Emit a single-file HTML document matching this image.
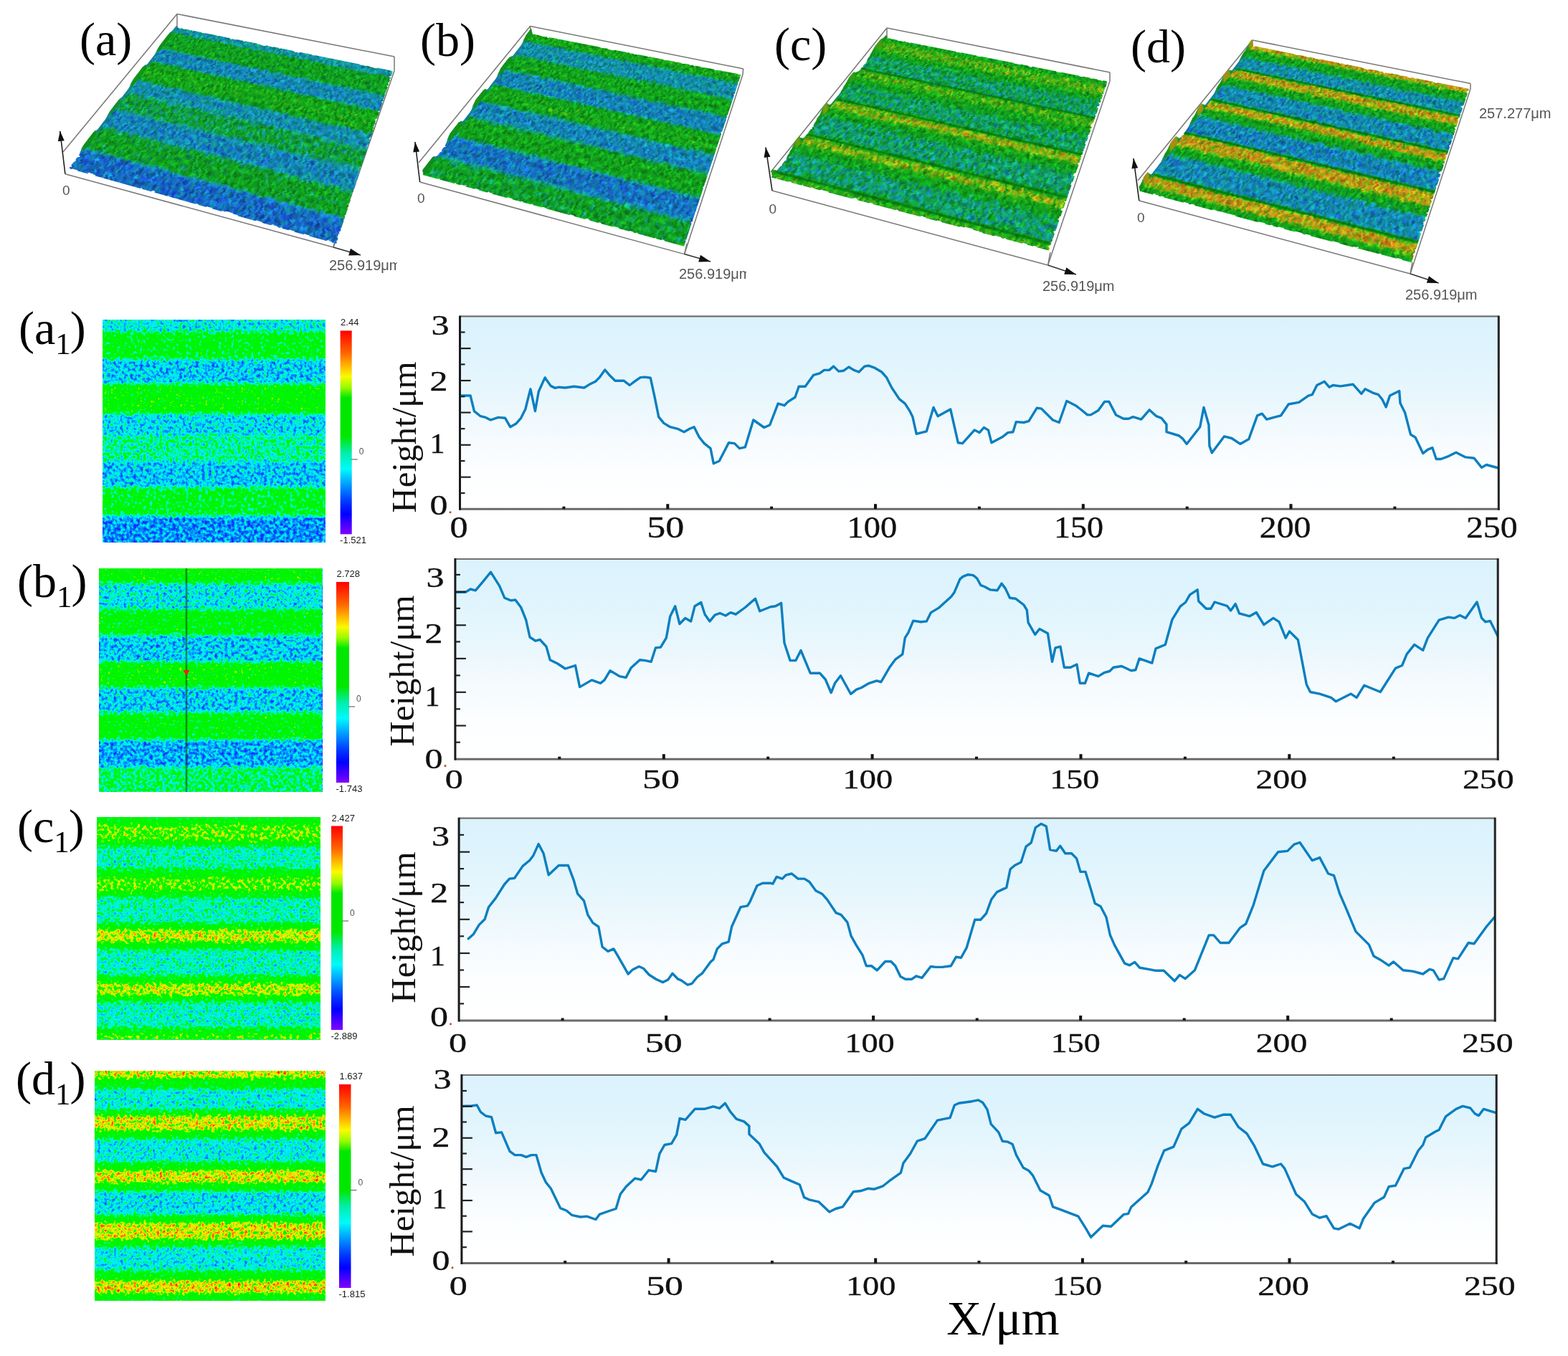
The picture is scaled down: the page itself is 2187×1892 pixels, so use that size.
<!DOCTYPE html>
<html><head><meta charset="utf-8"><title>Surface morphology</title>
<style>
html,body{margin:0;padding:0;background:#fff;}
#fig{position:relative;width:2187px;height:1892px;overflow:hidden;background:#fff;}
#fig svg.main{position:absolute;left:0;top:0;}
</style></head><body>
<div id="fig">
<svg class="main" width="2187" height="1892" viewBox="0 0 2187 1892" xmlns="http://www.w3.org/2000/svg">
<defs>
<linearGradient id="g_a1" x1="0" y1="0" x2="0" y2="1"><stop offset="0.0000" stop-color="rgb(84,84,84)"/><stop offset="0.0418" stop-color="rgb(84,84,84)"/><stop offset="0.0675" stop-color="rgb(133,133,133)"/><stop offset="0.1640" stop-color="rgb(133,133,133)"/><stop offset="0.1897" stop-color="rgb(71,71,71)"/><stop offset="0.2765" stop-color="rgb(71,71,71)"/><stop offset="0.3023" stop-color="rgb(148,148,148)"/><stop offset="0.4084" stop-color="rgb(148,148,148)"/><stop offset="0.4341" stop-color="rgb(76,76,76)"/><stop offset="0.5048" stop-color="rgb(76,76,76)"/><stop offset="0.5305" stop-color="rgb(102,102,102)"/><stop offset="0.6238" stop-color="rgb(102,102,102)"/><stop offset="0.6495" stop-color="rgb(69,69,69)"/><stop offset="0.7395" stop-color="rgb(69,69,69)"/><stop offset="0.7653" stop-color="rgb(128,128,128)"/><stop offset="0.8682" stop-color="rgb(128,128,128)"/><stop offset="0.8939" stop-color="rgb(54,54,54)"/><stop offset="1.0000" stop-color="rgb(54,54,54)"/></linearGradient>
<filter id="f_a1" x="0" y="0" width="100%" height="100%" color-interpolation-filters="sRGB" filterUnits="objectBoundingBox">
<feTurbulence type="fractalNoise" baseFrequency="0.22" numOctaves="2" seed="3" result="n0"/>
<feColorMatrix in="n0" type="matrix" values="1 0 0 0 0  1 0 0 0 0  1 0 0 0 0  0 0 0 0 1" result="n"/>
<feComposite in="SourceGraphic" in2="n" operator="arithmetic" k1="0" k2="1" k3="0.6" k4="-0.3" result="v"/>
<feColorMatrix in="v" type="matrix" values="1 0 0 0 0  1 0 0 0 0  1 0 0 0 0  0 0 0 0 1" result="v2"/>
<feComponentTransfer in="v2" result="c">
<feFuncR type="table" tableValues="0.392 0.294 0.196 0.098 0.000 0.000 0.000 0.000 0.000 0.000 0.000 0.000 0.000 0.000 0.000 0.000 0.000 0.000 0.000 0.000 0.000 0.000 0.000 0.000 0.000 0.000 0.000 0.000 0.118 0.412 0.667 0.863 0.983 0.990 0.997 1.000 1.000 1.000 1.000 1.000 1.000"/>
<feFuncG type="table" tableValues="0.000 0.059 0.118 0.176 0.235 0.305 0.375 0.448 0.532 0.616 0.703 0.795 0.887 0.961 0.961 0.961 0.961 0.961 0.961 0.961 0.961 0.961 0.961 0.961 0.961 0.961 0.961 0.961 0.965 0.975 0.980 0.980 0.933 0.814 0.695 0.571 0.443 0.327 0.218 0.109 0.000"/>
<feFuncB type="table" tableValues="1.000 0.995 0.990 0.985 0.980 0.980 0.980 0.982 0.989 0.996 0.998 0.991 0.985 0.961 0.863 0.765 0.667 0.458 0.250 0.042 0.000 0.000 0.000 0.000 0.000 0.000 0.000 0.000 0.000 0.000 0.000 0.000 0.000 0.000 0.000 0.000 0.000 0.000 0.000 0.000 0.000"/>
</feComponentTransfer>
</filter>
<linearGradient id="g_b1" x1="0" y1="0" x2="0" y2="1"><stop offset="0.0000" stop-color="rgb(148,148,148)"/><stop offset="0.0513" stop-color="rgb(148,148,148)"/><stop offset="0.0769" stop-color="rgb(82,82,82)"/><stop offset="0.1731" stop-color="rgb(82,82,82)"/><stop offset="0.1987" stop-color="rgb(140,140,140)"/><stop offset="0.2853" stop-color="rgb(140,140,140)"/><stop offset="0.3109" stop-color="rgb(71,71,71)"/><stop offset="0.4071" stop-color="rgb(71,71,71)"/><stop offset="0.4327" stop-color="rgb(148,148,148)"/><stop offset="0.5192" stop-color="rgb(148,148,148)"/><stop offset="0.5449" stop-color="rgb(71,71,71)"/><stop offset="0.6330" stop-color="rgb(71,71,71)"/><stop offset="0.6587" stop-color="rgb(140,140,140)"/><stop offset="0.7532" stop-color="rgb(140,140,140)"/><stop offset="0.7788" stop-color="rgb(61,61,61)"/><stop offset="0.8750" stop-color="rgb(61,61,61)"/><stop offset="0.9006" stop-color="rgb(112,112,112)"/><stop offset="1.0000" stop-color="rgb(112,112,112)"/></linearGradient>
<filter id="f_b1" x="0" y="0" width="100%" height="100%" color-interpolation-filters="sRGB" filterUnits="objectBoundingBox">
<feTurbulence type="fractalNoise" baseFrequency="0.22" numOctaves="2" seed="5" result="n0"/>
<feColorMatrix in="n0" type="matrix" values="1 0 0 0 0  1 0 0 0 0  1 0 0 0 0  0 0 0 0 1" result="n"/>
<feComposite in="SourceGraphic" in2="n" operator="arithmetic" k1="0" k2="1" k3="0.6" k4="-0.3" result="v"/>
<feColorMatrix in="v" type="matrix" values="1 0 0 0 0  1 0 0 0 0  1 0 0 0 0  0 0 0 0 1" result="v2"/>
<feComponentTransfer in="v2" result="c">
<feFuncR type="table" tableValues="0.392 0.294 0.196 0.098 0.000 0.000 0.000 0.000 0.000 0.000 0.000 0.000 0.000 0.000 0.000 0.000 0.000 0.000 0.000 0.000 0.000 0.000 0.000 0.000 0.000 0.000 0.000 0.000 0.118 0.412 0.667 0.863 0.983 0.990 0.997 1.000 1.000 1.000 1.000 1.000 1.000"/>
<feFuncG type="table" tableValues="0.000 0.059 0.118 0.176 0.235 0.305 0.375 0.448 0.532 0.616 0.703 0.795 0.887 0.961 0.961 0.961 0.961 0.961 0.961 0.961 0.961 0.961 0.961 0.961 0.961 0.961 0.961 0.961 0.965 0.975 0.980 0.980 0.933 0.814 0.695 0.571 0.443 0.327 0.218 0.109 0.000"/>
<feFuncB type="table" tableValues="1.000 0.995 0.990 0.985 0.980 0.980 0.980 0.982 0.989 0.996 0.998 0.991 0.985 0.961 0.863 0.765 0.667 0.458 0.250 0.042 0.000 0.000 0.000 0.000 0.000 0.000 0.000 0.000 0.000 0.000 0.000 0.000 0.000 0.000 0.000 0.000 0.000 0.000 0.000 0.000 0.000"/>
</feComponentTransfer>
</filter>
<linearGradient id="g_c1" x1="0" y1="0" x2="0" y2="1"><stop offset="0.0000" stop-color="rgb(140,140,140)"/><stop offset="0.0193" stop-color="rgb(140,140,140)"/><stop offset="0.0451" stop-color="rgb(178,178,178)"/><stop offset="0.0966" stop-color="rgb(178,178,178)"/><stop offset="0.1224" stop-color="rgb(140,140,140)"/><stop offset="0.1159" stop-color="rgb(140,140,140)"/><stop offset="0.1417" stop-color="rgb(97,97,97)"/><stop offset="0.2190" stop-color="rgb(97,97,97)"/><stop offset="0.2448" stop-color="rgb(140,140,140)"/><stop offset="0.2544" stop-color="rgb(140,140,140)"/><stop offset="0.2802" stop-color="rgb(176,176,176)"/><stop offset="0.3221" stop-color="rgb(176,176,176)"/><stop offset="0.3478" stop-color="rgb(140,140,140)"/><stop offset="0.3478" stop-color="rgb(140,140,140)"/><stop offset="0.3736" stop-color="rgb(97,97,97)"/><stop offset="0.4638" stop-color="rgb(97,97,97)"/><stop offset="0.4895" stop-color="rgb(140,140,140)"/><stop offset="0.4895" stop-color="rgb(140,140,140)"/><stop offset="0.5153" stop-color="rgb(196,196,196)"/><stop offset="0.5507" stop-color="rgb(196,196,196)"/><stop offset="0.5765" stop-color="rgb(140,140,140)"/><stop offset="0.5829" stop-color="rgb(140,140,140)"/><stop offset="0.6087" stop-color="rgb(94,94,94)"/><stop offset="0.6989" stop-color="rgb(94,94,94)"/><stop offset="0.7246" stop-color="rgb(140,140,140)"/><stop offset="0.7311" stop-color="rgb(140,140,140)"/><stop offset="0.7568" stop-color="rgb(191,191,191)"/><stop offset="0.7923" stop-color="rgb(191,191,191)"/><stop offset="0.8180" stop-color="rgb(140,140,140)"/><stop offset="0.8180" stop-color="rgb(140,140,140)"/><stop offset="0.8438" stop-color="rgb(94,94,94)"/><stop offset="0.9340" stop-color="rgb(94,94,94)"/><stop offset="0.9597" stop-color="rgb(140,140,140)"/><stop offset="0.9597" stop-color="rgb(140,140,140)"/><stop offset="0.9855" stop-color="rgb(173,173,173)"/><stop offset="1.0000" stop-color="rgb(173,173,173)"/></linearGradient>
<filter id="f_c1" x="0" y="0" width="100%" height="100%" color-interpolation-filters="sRGB" filterUnits="objectBoundingBox">
<feTurbulence type="fractalNoise" baseFrequency="0.22" numOctaves="2" seed="7" result="n0"/>
<feColorMatrix in="n0" type="matrix" values="1 0 0 0 0  1 0 0 0 0  1 0 0 0 0  0 0 0 0 1" result="n"/>
<feComposite in="SourceGraphic" in2="n" operator="arithmetic" k1="0" k2="1" k3="0.55" k4="-0.275" result="v"/>
<feColorMatrix in="v" type="matrix" values="1 0 0 0 0  1 0 0 0 0  1 0 0 0 0  0 0 0 0 1" result="v2"/>
<feComponentTransfer in="v2" result="c">
<feFuncR type="table" tableValues="0.392 0.294 0.196 0.098 0.000 0.000 0.000 0.000 0.000 0.000 0.000 0.000 0.000 0.000 0.000 0.000 0.000 0.000 0.000 0.000 0.000 0.000 0.000 0.000 0.000 0.000 0.000 0.000 0.118 0.412 0.667 0.863 0.983 0.990 0.997 1.000 1.000 1.000 1.000 1.000 1.000"/>
<feFuncG type="table" tableValues="0.000 0.059 0.118 0.176 0.235 0.305 0.375 0.448 0.532 0.616 0.703 0.795 0.887 0.961 0.961 0.961 0.961 0.961 0.961 0.961 0.961 0.961 0.961 0.961 0.961 0.961 0.961 0.961 0.965 0.975 0.980 0.980 0.933 0.814 0.695 0.571 0.443 0.327 0.218 0.109 0.000"/>
<feFuncB type="table" tableValues="1.000 0.995 0.990 0.985 0.980 0.980 0.980 0.982 0.989 0.996 0.998 0.991 0.985 0.961 0.863 0.765 0.667 0.458 0.250 0.042 0.000 0.000 0.000 0.000 0.000 0.000 0.000 0.000 0.000 0.000 0.000 0.000 0.000 0.000 0.000 0.000 0.000 0.000 0.000 0.000 0.000"/>
</feComponentTransfer>
</filter>
<linearGradient id="g_d1" x1="0" y1="0" x2="0" y2="1"><stop offset="0.0000" stop-color="rgb(199,199,199)"/><stop offset="0.0218" stop-color="rgb(199,199,199)"/><stop offset="0.0467" stop-color="rgb(140,140,140)"/><stop offset="0.0654" stop-color="rgb(140,140,140)"/><stop offset="0.0903" stop-color="rgb(87,87,87)"/><stop offset="0.1558" stop-color="rgb(87,87,87)"/><stop offset="0.1807" stop-color="rgb(140,140,140)"/><stop offset="0.1807" stop-color="rgb(140,140,140)"/><stop offset="0.2056" stop-color="rgb(199,199,199)"/><stop offset="0.2492" stop-color="rgb(199,199,199)"/><stop offset="0.2741" stop-color="rgb(140,140,140)"/><stop offset="0.2835" stop-color="rgb(140,140,140)"/><stop offset="0.3084" stop-color="rgb(84,84,84)"/><stop offset="0.3832" stop-color="rgb(84,84,84)"/><stop offset="0.4081" stop-color="rgb(140,140,140)"/><stop offset="0.4174" stop-color="rgb(140,140,140)"/><stop offset="0.4424" stop-color="rgb(201,201,201)"/><stop offset="0.4766" stop-color="rgb(201,201,201)"/><stop offset="0.5016" stop-color="rgb(140,140,140)"/><stop offset="0.5109" stop-color="rgb(140,140,140)"/><stop offset="0.5358" stop-color="rgb(79,79,79)"/><stop offset="0.6137" stop-color="rgb(79,79,79)"/><stop offset="0.6386" stop-color="rgb(140,140,140)"/><stop offset="0.6449" stop-color="rgb(140,140,140)"/><stop offset="0.6698" stop-color="rgb(201,201,201)"/><stop offset="0.7227" stop-color="rgb(201,201,201)"/><stop offset="0.7477" stop-color="rgb(140,140,140)"/><stop offset="0.7539" stop-color="rgb(140,140,140)"/><stop offset="0.7788" stop-color="rgb(84,84,84)"/><stop offset="0.8567" stop-color="rgb(84,84,84)"/><stop offset="0.8816" stop-color="rgb(140,140,140)"/><stop offset="0.8972" stop-color="rgb(140,140,140)"/><stop offset="0.9221" stop-color="rgb(204,204,204)"/><stop offset="0.9564" stop-color="rgb(204,204,204)"/><stop offset="0.9813" stop-color="rgb(140,140,140)"/><stop offset="1.0000" stop-color="rgb(140,140,140)"/></linearGradient>
<filter id="f_d1" x="0" y="0" width="100%" height="100%" color-interpolation-filters="sRGB" filterUnits="objectBoundingBox">
<feTurbulence type="fractalNoise" baseFrequency="0.22" numOctaves="2" seed="9" result="n0"/>
<feColorMatrix in="n0" type="matrix" values="1 0 0 0 0  1 0 0 0 0  1 0 0 0 0  0 0 0 0 1" result="n"/>
<feComposite in="SourceGraphic" in2="n" operator="arithmetic" k1="0" k2="1" k3="0.55" k4="-0.275" result="v"/>
<feColorMatrix in="v" type="matrix" values="1 0 0 0 0  1 0 0 0 0  1 0 0 0 0  0 0 0 0 1" result="v2"/>
<feComponentTransfer in="v2" result="c">
<feFuncR type="table" tableValues="0.392 0.294 0.196 0.098 0.000 0.000 0.000 0.000 0.000 0.000 0.000 0.000 0.000 0.000 0.000 0.000 0.000 0.000 0.000 0.000 0.000 0.000 0.000 0.000 0.000 0.000 0.000 0.000 0.118 0.412 0.667 0.863 0.983 0.990 0.997 1.000 1.000 1.000 1.000 1.000 1.000"/>
<feFuncG type="table" tableValues="0.000 0.059 0.118 0.176 0.235 0.305 0.375 0.448 0.532 0.616 0.703 0.795 0.887 0.961 0.961 0.961 0.961 0.961 0.961 0.961 0.961 0.961 0.961 0.961 0.961 0.961 0.961 0.961 0.965 0.975 0.980 0.980 0.933 0.814 0.695 0.571 0.443 0.327 0.218 0.109 0.000"/>
<feFuncB type="table" tableValues="1.000 0.995 0.990 0.985 0.980 0.980 0.980 0.982 0.989 0.996 0.998 0.991 0.985 0.961 0.863 0.765 0.667 0.458 0.250 0.042 0.000 0.000 0.000 0.000 0.000 0.000 0.000 0.000 0.000 0.000 0.000 0.000 0.000 0.000 0.000 0.000 0.000 0.000 0.000 0.000 0.000"/>
</feComponentTransfer>
</filter>
<linearGradient id="cbar" x1="0" y1="0" x2="0" y2="1"><stop offset="0.000" stop-color="rgb(255,0,0)"/><stop offset="0.110" stop-color="rgb(255,100,0)"/><stop offset="0.160" stop-color="rgb(255,165,0)"/><stop offset="0.225" stop-color="rgb(250,250,0)"/><stop offset="0.280" stop-color="rgb(150,250,0)"/><stop offset="0.330" stop-color="rgb(0,232,0)"/><stop offset="0.520" stop-color="rgb(0,232,0)"/><stop offset="0.600" stop-color="rgb(0,238,170)"/><stop offset="0.680" stop-color="rgb(0,250,250)"/><stop offset="0.760" stop-color="rgb(0,150,255)"/><stop offset="0.835" stop-color="rgb(0,60,255)"/><stop offset="0.900" stop-color="rgb(0,0,255)"/><stop offset="1.000" stop-color="rgb(130,0,255)"/></linearGradient>
<linearGradient id="g3_a" x1="0" y1="0" x2="0" y2="1"><stop offset="0.0000" stop-color="rgb(89,89,89)"/><stop offset="0.0101" stop-color="rgb(89,89,89)"/><stop offset="0.0201" stop-color="rgb(89,89,89)"/><stop offset="0.0302" stop-color="rgb(89,89,89)"/><stop offset="0.0402" stop-color="rgb(92,92,92)"/><stop offset="0.0503" stop-color="rgb(112,112,112)"/><stop offset="0.0603" stop-color="rgb(132,132,132)"/><stop offset="0.0704" stop-color="rgb(132,132,132)"/><stop offset="0.0804" stop-color="rgb(133,133,133)"/><stop offset="0.0905" stop-color="rgb(133,133,133)"/><stop offset="0.1005" stop-color="rgb(133,133,133)"/><stop offset="0.1106" stop-color="rgb(133,133,133)"/><stop offset="0.1206" stop-color="rgb(133,133,133)"/><stop offset="0.1307" stop-color="rgb(133,133,133)"/><stop offset="0.1407" stop-color="rgb(133,133,133)"/><stop offset="0.1508" stop-color="rgb(133,133,133)"/><stop offset="0.1608" stop-color="rgb(133,133,133)"/><stop offset="0.1709" stop-color="rgb(129,129,129)"/><stop offset="0.1809" stop-color="rgb(105,105,105)"/><stop offset="0.1910" stop-color="rgb(81,81,81)"/><stop offset="0.2010" stop-color="rgb(76,76,76)"/><stop offset="0.2111" stop-color="rgb(76,76,76)"/><stop offset="0.2211" stop-color="rgb(76,76,76)"/><stop offset="0.2312" stop-color="rgb(76,76,76)"/><stop offset="0.2412" stop-color="rgb(76,76,76)"/><stop offset="0.2513" stop-color="rgb(76,76,76)"/><stop offset="0.2613" stop-color="rgb(76,76,76)"/><stop offset="0.2714" stop-color="rgb(76,76,76)"/><stop offset="0.2814" stop-color="rgb(100,100,100)"/><stop offset="0.2915" stop-color="rgb(128,128,128)"/><stop offset="0.3015" stop-color="rgb(137,137,137)"/><stop offset="0.3116" stop-color="rgb(148,148,148)"/><stop offset="0.3216" stop-color="rgb(148,148,148)"/><stop offset="0.3317" stop-color="rgb(148,148,148)"/><stop offset="0.3417" stop-color="rgb(148,148,148)"/><stop offset="0.3518" stop-color="rgb(148,148,148)"/><stop offset="0.3618" stop-color="rgb(148,148,148)"/><stop offset="0.3719" stop-color="rgb(148,148,148)"/><stop offset="0.3819" stop-color="rgb(148,148,148)"/><stop offset="0.3920" stop-color="rgb(148,148,148)"/><stop offset="0.4020" stop-color="rgb(148,148,148)"/><stop offset="0.4121" stop-color="rgb(129,129,129)"/><stop offset="0.4221" stop-color="rgb(123,123,123)"/><stop offset="0.4322" stop-color="rgb(95,95,95)"/><stop offset="0.4422" stop-color="rgb(82,82,82)"/><stop offset="0.4523" stop-color="rgb(82,82,82)"/><stop offset="0.4623" stop-color="rgb(82,82,82)"/><stop offset="0.4724" stop-color="rgb(82,82,82)"/><stop offset="0.4824" stop-color="rgb(82,82,82)"/><stop offset="0.4925" stop-color="rgb(82,82,82)"/><stop offset="0.5025" stop-color="rgb(83,83,83)"/><stop offset="0.5126" stop-color="rgb(94,94,94)"/><stop offset="0.5226" stop-color="rgb(105,105,105)"/><stop offset="0.5327" stop-color="rgb(116,116,116)"/><stop offset="0.5427" stop-color="rgb(117,117,117)"/><stop offset="0.5528" stop-color="rgb(117,117,117)"/><stop offset="0.5628" stop-color="rgb(117,117,117)"/><stop offset="0.5729" stop-color="rgb(117,117,117)"/><stop offset="0.5829" stop-color="rgb(117,117,117)"/><stop offset="0.5930" stop-color="rgb(117,117,117)"/><stop offset="0.6030" stop-color="rgb(117,117,117)"/><stop offset="0.6131" stop-color="rgb(117,117,117)"/><stop offset="0.6231" stop-color="rgb(114,114,114)"/><stop offset="0.6332" stop-color="rgb(100,100,100)"/><stop offset="0.6432" stop-color="rgb(87,87,87)"/><stop offset="0.6533" stop-color="rgb(74,74,74)"/><stop offset="0.6633" stop-color="rgb(74,74,74)"/><stop offset="0.6734" stop-color="rgb(74,74,74)"/><stop offset="0.6834" stop-color="rgb(74,74,74)"/><stop offset="0.6935" stop-color="rgb(74,74,74)"/><stop offset="0.7035" stop-color="rgb(74,74,74)"/><stop offset="0.7136" stop-color="rgb(74,74,74)"/><stop offset="0.7236" stop-color="rgb(74,74,74)"/><stop offset="0.7337" stop-color="rgb(74,74,74)"/><stop offset="0.7437" stop-color="rgb(91,91,91)"/><stop offset="0.7538" stop-color="rgb(114,114,114)"/><stop offset="0.7638" stop-color="rgb(117,117,117)"/><stop offset="0.7739" stop-color="rgb(128,128,128)"/><stop offset="0.7839" stop-color="rgb(128,128,128)"/><stop offset="0.7940" stop-color="rgb(128,128,128)"/><stop offset="0.8040" stop-color="rgb(128,128,128)"/><stop offset="0.8141" stop-color="rgb(128,128,128)"/><stop offset="0.8241" stop-color="rgb(128,128,128)"/><stop offset="0.8342" stop-color="rgb(128,128,128)"/><stop offset="0.8442" stop-color="rgb(128,128,128)"/><stop offset="0.8543" stop-color="rgb(128,128,128)"/><stop offset="0.8643" stop-color="rgb(128,128,128)"/><stop offset="0.8744" stop-color="rgb(122,122,122)"/><stop offset="0.8844" stop-color="rgb(94,94,94)"/><stop offset="0.8945" stop-color="rgb(66,66,66)"/><stop offset="0.9045" stop-color="rgb(59,59,59)"/><stop offset="0.9146" stop-color="rgb(59,59,59)"/><stop offset="0.9246" stop-color="rgb(59,59,59)"/><stop offset="0.9347" stop-color="rgb(59,59,59)"/><stop offset="0.9447" stop-color="rgb(59,59,59)"/><stop offset="0.9548" stop-color="rgb(59,59,59)"/><stop offset="0.9648" stop-color="rgb(59,59,59)"/><stop offset="0.9749" stop-color="rgb(59,59,59)"/><stop offset="0.9849" stop-color="rgb(59,59,59)"/><stop offset="0.9950" stop-color="rgb(59,59,59)"/></linearGradient>
<filter id="f3_a" x="0" y="0" width="100%" height="100%" color-interpolation-filters="sRGB" filterUnits="objectBoundingBox">
<feTurbulence type="fractalNoise" baseFrequency="0.3 0.1" numOctaves="2" seed="11" result="n0"/>
<feColorMatrix in="n0" type="matrix" values="1 0 0 0 0  1 0 0 0 0  1 0 0 0 0  0 0 0 0 1" result="n"/>
<feComposite in="SourceGraphic" in2="n" operator="arithmetic" k1="0" k2="1" k3="0.34" k4="-0.17" result="v"/>
<feColorMatrix in="v" type="matrix" values="1 0 0 0 0  1 0 0 0 0  1 0 0 0 0  0 0 0 0 1" result="v2"/>
<feComponentTransfer in="v2" result="c">
<feFuncR type="table" tableValues="0.157 0.137 0.118 0.098 0.078 0.083 0.088 0.093 0.098 0.092 0.086 0.080 0.078 0.078 0.078 0.078 0.078 0.077 0.069 0.060 0.063 0.068 0.073 0.077 0.082 0.105 0.201 0.297 0.392 0.515 0.637 0.711 0.752 0.784 0.784 0.784 0.784 0.784 0.784 0.784 0.784"/>
<feFuncG type="table" tableValues="0.078 0.108 0.137 0.167 0.196 0.235 0.275 0.314 0.353 0.404 0.456 0.507 0.538 0.563 0.588 0.602 0.616 0.626 0.618 0.609 0.615 0.624 0.633 0.642 0.652 0.662 0.676 0.691 0.706 0.690 0.673 0.637 0.588 0.538 0.483 0.428 0.373 0.319 0.265 0.211 0.157"/>
<feFuncB type="table" tableValues="0.667 0.686 0.706 0.725 0.745 0.755 0.765 0.775 0.784 0.766 0.748 0.729 0.703 0.675 0.647 0.577 0.507 0.423 0.284 0.145 0.115 0.111 0.108 0.104 0.101 0.097 0.091 0.085 0.078 0.078 0.078 0.083 0.092 0.097 0.091 0.085 0.078 0.078 0.078 0.078 0.078"/>
</feComponentTransfer><feTurbulence type="fractalNoise" baseFrequency="0.35 0.12" numOctaves="1" seed="61" result="m0"/>
<feColorMatrix in="m0" type="matrix" values="1 0 0 0 0  1 0 0 0 0  1 0 0 0 0  0 0 0 0 1" result="m"/>
<feComposite in="c" in2="m" operator="arithmetic" k1="1.2" k2="0.4" k3="0" k4="0" result="sh"/>
<feTurbulence type="fractalNoise" baseFrequency="0.12 0.25" numOctaves="2" seed="101" result="dn"/>
<feDisplacementMap in="sh" in2="dn" scale="7" xChannelSelector="R" yChannelSelector="G"/>
</filter>
<linearGradient id="g3_b" x1="0" y1="0" x2="0" y2="1"><stop offset="0.0000" stop-color="rgb(148,148,148)"/><stop offset="0.0101" stop-color="rgb(148,148,148)"/><stop offset="0.0201" stop-color="rgb(148,148,148)"/><stop offset="0.0302" stop-color="rgb(148,148,148)"/><stop offset="0.0402" stop-color="rgb(148,148,148)"/><stop offset="0.0503" stop-color="rgb(142,142,142)"/><stop offset="0.0603" stop-color="rgb(117,117,117)"/><stop offset="0.0704" stop-color="rgb(109,109,109)"/><stop offset="0.0804" stop-color="rgb(84,84,84)"/><stop offset="0.0905" stop-color="rgb(84,84,84)"/><stop offset="0.1005" stop-color="rgb(84,84,84)"/><stop offset="0.1106" stop-color="rgb(84,84,84)"/><stop offset="0.1206" stop-color="rgb(84,84,84)"/><stop offset="0.1307" stop-color="rgb(84,84,84)"/><stop offset="0.1407" stop-color="rgb(84,84,84)"/><stop offset="0.1508" stop-color="rgb(84,84,84)"/><stop offset="0.1608" stop-color="rgb(84,84,84)"/><stop offset="0.1709" stop-color="rgb(86,86,86)"/><stop offset="0.1809" stop-color="rgb(110,110,110)"/><stop offset="0.1910" stop-color="rgb(115,115,115)"/><stop offset="0.2010" stop-color="rgb(138,138,138)"/><stop offset="0.2111" stop-color="rgb(140,140,140)"/><stop offset="0.2211" stop-color="rgb(140,140,140)"/><stop offset="0.2312" stop-color="rgb(140,140,140)"/><stop offset="0.2412" stop-color="rgb(140,140,140)"/><stop offset="0.2513" stop-color="rgb(140,140,140)"/><stop offset="0.2613" stop-color="rgb(140,140,140)"/><stop offset="0.2714" stop-color="rgb(140,140,140)"/><stop offset="0.2814" stop-color="rgb(140,140,140)"/><stop offset="0.2915" stop-color="rgb(116,116,116)"/><stop offset="0.3015" stop-color="rgb(107,107,107)"/><stop offset="0.3116" stop-color="rgb(81,81,81)"/><stop offset="0.3216" stop-color="rgb(74,74,74)"/><stop offset="0.3317" stop-color="rgb(74,74,74)"/><stop offset="0.3417" stop-color="rgb(74,74,74)"/><stop offset="0.3518" stop-color="rgb(74,74,74)"/><stop offset="0.3618" stop-color="rgb(74,74,74)"/><stop offset="0.3719" stop-color="rgb(74,74,74)"/><stop offset="0.3819" stop-color="rgb(74,74,74)"/><stop offset="0.3920" stop-color="rgb(74,74,74)"/><stop offset="0.4020" stop-color="rgb(74,74,74)"/><stop offset="0.4121" stop-color="rgb(97,97,97)"/><stop offset="0.4221" stop-color="rgb(126,126,126)"/><stop offset="0.4322" stop-color="rgb(137,137,137)"/><stop offset="0.4422" stop-color="rgb(148,148,148)"/><stop offset="0.4523" stop-color="rgb(148,148,148)"/><stop offset="0.4623" stop-color="rgb(148,148,148)"/><stop offset="0.4724" stop-color="rgb(148,148,148)"/><stop offset="0.4824" stop-color="rgb(148,148,148)"/><stop offset="0.4925" stop-color="rgb(148,148,148)"/><stop offset="0.5025" stop-color="rgb(148,148,148)"/><stop offset="0.5126" stop-color="rgb(148,148,148)"/><stop offset="0.5226" stop-color="rgb(129,129,129)"/><stop offset="0.5327" stop-color="rgb(118,118,118)"/><stop offset="0.5427" stop-color="rgb(89,89,89)"/><stop offset="0.5528" stop-color="rgb(74,74,74)"/><stop offset="0.5628" stop-color="rgb(74,74,74)"/><stop offset="0.5729" stop-color="rgb(74,74,74)"/><stop offset="0.5829" stop-color="rgb(74,74,74)"/><stop offset="0.5930" stop-color="rgb(74,74,74)"/><stop offset="0.6030" stop-color="rgb(74,74,74)"/><stop offset="0.6131" stop-color="rgb(74,74,74)"/><stop offset="0.6231" stop-color="rgb(74,74,74)"/><stop offset="0.6332" stop-color="rgb(83,83,83)"/><stop offset="0.6432" stop-color="rgb(109,109,109)"/><stop offset="0.6533" stop-color="rgb(118,118,118)"/><stop offset="0.6633" stop-color="rgb(140,140,140)"/><stop offset="0.6734" stop-color="rgb(140,140,140)"/><stop offset="0.6834" stop-color="rgb(140,140,140)"/><stop offset="0.6935" stop-color="rgb(140,140,140)"/><stop offset="0.7035" stop-color="rgb(140,140,140)"/><stop offset="0.7136" stop-color="rgb(140,140,140)"/><stop offset="0.7236" stop-color="rgb(140,140,140)"/><stop offset="0.7337" stop-color="rgb(140,140,140)"/><stop offset="0.7437" stop-color="rgb(140,140,140)"/><stop offset="0.7538" stop-color="rgb(129,129,129)"/><stop offset="0.7638" stop-color="rgb(117,117,117)"/><stop offset="0.7739" stop-color="rgb(88,88,88)"/><stop offset="0.7839" stop-color="rgb(64,64,64)"/><stop offset="0.7940" stop-color="rgb(64,64,64)"/><stop offset="0.8040" stop-color="rgb(64,64,64)"/><stop offset="0.8141" stop-color="rgb(64,64,64)"/><stop offset="0.8241" stop-color="rgb(64,64,64)"/><stop offset="0.8342" stop-color="rgb(64,64,64)"/><stop offset="0.8442" stop-color="rgb(64,64,64)"/><stop offset="0.8543" stop-color="rgb(64,64,64)"/><stop offset="0.8643" stop-color="rgb(64,64,64)"/><stop offset="0.8744" stop-color="rgb(69,69,69)"/><stop offset="0.8844" stop-color="rgb(88,88,88)"/><stop offset="0.8945" stop-color="rgb(107,107,107)"/><stop offset="0.9045" stop-color="rgb(125,125,125)"/><stop offset="0.9146" stop-color="rgb(125,125,125)"/><stop offset="0.9246" stop-color="rgb(125,125,125)"/><stop offset="0.9347" stop-color="rgb(125,125,125)"/><stop offset="0.9447" stop-color="rgb(125,125,125)"/><stop offset="0.9548" stop-color="rgb(125,125,125)"/><stop offset="0.9648" stop-color="rgb(125,125,125)"/><stop offset="0.9749" stop-color="rgb(125,125,125)"/><stop offset="0.9849" stop-color="rgb(125,125,125)"/><stop offset="0.9950" stop-color="rgb(125,125,125)"/></linearGradient>
<filter id="f3_b" x="0" y="0" width="100%" height="100%" color-interpolation-filters="sRGB" filterUnits="objectBoundingBox">
<feTurbulence type="fractalNoise" baseFrequency="0.3 0.1" numOctaves="2" seed="13" result="n0"/>
<feColorMatrix in="n0" type="matrix" values="1 0 0 0 0  1 0 0 0 0  1 0 0 0 0  0 0 0 0 1" result="n"/>
<feComposite in="SourceGraphic" in2="n" operator="arithmetic" k1="0" k2="1" k3="0.34" k4="-0.17" result="v"/>
<feColorMatrix in="v" type="matrix" values="1 0 0 0 0  1 0 0 0 0  1 0 0 0 0  0 0 0 0 1" result="v2"/>
<feComponentTransfer in="v2" result="c">
<feFuncR type="table" tableValues="0.157 0.137 0.118 0.098 0.078 0.083 0.088 0.093 0.098 0.092 0.086 0.080 0.078 0.078 0.078 0.078 0.078 0.077 0.069 0.060 0.063 0.068 0.073 0.077 0.082 0.105 0.201 0.297 0.392 0.515 0.637 0.711 0.752 0.784 0.784 0.784 0.784 0.784 0.784 0.784 0.784"/>
<feFuncG type="table" tableValues="0.078 0.108 0.137 0.167 0.196 0.235 0.275 0.314 0.353 0.404 0.456 0.507 0.538 0.563 0.588 0.602 0.616 0.626 0.618 0.609 0.615 0.624 0.633 0.642 0.652 0.662 0.676 0.691 0.706 0.690 0.673 0.637 0.588 0.538 0.483 0.428 0.373 0.319 0.265 0.211 0.157"/>
<feFuncB type="table" tableValues="0.667 0.686 0.706 0.725 0.745 0.755 0.765 0.775 0.784 0.766 0.748 0.729 0.703 0.675 0.647 0.577 0.507 0.423 0.284 0.145 0.115 0.111 0.108 0.104 0.101 0.097 0.091 0.085 0.078 0.078 0.078 0.083 0.092 0.097 0.091 0.085 0.078 0.078 0.078 0.078 0.078"/>
</feComponentTransfer><feTurbulence type="fractalNoise" baseFrequency="0.35 0.12" numOctaves="1" seed="63" result="m0"/>
<feColorMatrix in="m0" type="matrix" values="1 0 0 0 0  1 0 0 0 0  1 0 0 0 0  0 0 0 0 1" result="m"/>
<feComposite in="c" in2="m" operator="arithmetic" k1="1.2" k2="0.4" k3="0" k4="0" result="sh"/>
<feTurbulence type="fractalNoise" baseFrequency="0.12 0.25" numOctaves="2" seed="103" result="dn"/>
<feDisplacementMap in="sh" in2="dn" scale="7" xChannelSelector="R" yChannelSelector="G"/>
</filter>
<linearGradient id="g3_c" x1="0" y1="0" x2="0" y2="1"><stop offset="0.0000" stop-color="rgb(140,140,140)"/><stop offset="0.0101" stop-color="rgb(140,140,140)"/><stop offset="0.0201" stop-color="rgb(144,144,144)"/><stop offset="0.0302" stop-color="rgb(154,154,154)"/><stop offset="0.0402" stop-color="rgb(163,163,163)"/><stop offset="0.0503" stop-color="rgb(171,171,171)"/><stop offset="0.0603" stop-color="rgb(171,171,171)"/><stop offset="0.0704" stop-color="rgb(171,171,171)"/><stop offset="0.0804" stop-color="rgb(171,171,171)"/><stop offset="0.0905" stop-color="rgb(171,171,171)"/><stop offset="0.1005" stop-color="rgb(164,164,164)"/><stop offset="0.1106" stop-color="rgb(155,155,155)"/><stop offset="0.1206" stop-color="rgb(145,145,145)"/><stop offset="0.1307" stop-color="rgb(140,140,140)"/><stop offset="0.1407" stop-color="rgb(127,127,127)"/><stop offset="0.1508" stop-color="rgb(130,130,130)"/><stop offset="0.1608" stop-color="rgb(115,115,115)"/><stop offset="0.1709" stop-color="rgb(110,110,110)"/><stop offset="0.1809" stop-color="rgb(110,110,110)"/><stop offset="0.1910" stop-color="rgb(110,110,110)"/><stop offset="0.2010" stop-color="rgb(110,110,110)"/><stop offset="0.2111" stop-color="rgb(110,110,110)"/><stop offset="0.2211" stop-color="rgb(110,110,110)"/><stop offset="0.2312" stop-color="rgb(110,110,110)"/><stop offset="0.2412" stop-color="rgb(110,110,110)"/><stop offset="0.2513" stop-color="rgb(110,110,110)"/><stop offset="0.2613" stop-color="rgb(118,118,118)"/><stop offset="0.2714" stop-color="rgb(144,144,144)"/><stop offset="0.2814" stop-color="rgb(165,165,165)"/><stop offset="0.2915" stop-color="rgb(169,169,169)"/><stop offset="0.3015" stop-color="rgb(169,169,169)"/><stop offset="0.3116" stop-color="rgb(169,169,169)"/><stop offset="0.3216" stop-color="rgb(166,166,166)"/><stop offset="0.3317" stop-color="rgb(157,157,157)"/><stop offset="0.3417" stop-color="rgb(149,149,149)"/><stop offset="0.3518" stop-color="rgb(140,140,140)"/><stop offset="0.3618" stop-color="rgb(140,140,140)"/><stop offset="0.3719" stop-color="rgb(128,128,128)"/><stop offset="0.3819" stop-color="rgb(131,131,131)"/><stop offset="0.3920" stop-color="rgb(116,116,116)"/><stop offset="0.4020" stop-color="rgb(110,110,110)"/><stop offset="0.4121" stop-color="rgb(110,110,110)"/><stop offset="0.4221" stop-color="rgb(110,110,110)"/><stop offset="0.4322" stop-color="rgb(110,110,110)"/><stop offset="0.4422" stop-color="rgb(110,110,110)"/><stop offset="0.4523" stop-color="rgb(110,110,110)"/><stop offset="0.4623" stop-color="rgb(110,110,110)"/><stop offset="0.4724" stop-color="rgb(110,110,110)"/><stop offset="0.4824" stop-color="rgb(110,110,110)"/><stop offset="0.4925" stop-color="rgb(130,130,130)"/><stop offset="0.5025" stop-color="rgb(144,144,144)"/><stop offset="0.5126" stop-color="rgb(170,170,170)"/><stop offset="0.5226" stop-color="rgb(185,185,185)"/><stop offset="0.5327" stop-color="rgb(185,185,185)"/><stop offset="0.5427" stop-color="rgb(185,185,185)"/><stop offset="0.5528" stop-color="rgb(178,178,178)"/><stop offset="0.5628" stop-color="rgb(164,164,164)"/><stop offset="0.5729" stop-color="rgb(150,150,150)"/><stop offset="0.5829" stop-color="rgb(140,140,140)"/><stop offset="0.5930" stop-color="rgb(140,140,140)"/><stop offset="0.6030" stop-color="rgb(134,134,134)"/><stop offset="0.6131" stop-color="rgb(118,118,118)"/><stop offset="0.6231" stop-color="rgb(120,120,120)"/><stop offset="0.6332" stop-color="rgb(107,107,107)"/><stop offset="0.6432" stop-color="rgb(107,107,107)"/><stop offset="0.6533" stop-color="rgb(107,107,107)"/><stop offset="0.6633" stop-color="rgb(107,107,107)"/><stop offset="0.6734" stop-color="rgb(107,107,107)"/><stop offset="0.6834" stop-color="rgb(107,107,107)"/><stop offset="0.6935" stop-color="rgb(107,107,107)"/><stop offset="0.7035" stop-color="rgb(107,107,107)"/><stop offset="0.7136" stop-color="rgb(107,107,107)"/><stop offset="0.7236" stop-color="rgb(107,107,107)"/><stop offset="0.7337" stop-color="rgb(126,126,126)"/><stop offset="0.7437" stop-color="rgb(139,139,139)"/><stop offset="0.7538" stop-color="rgb(165,165,165)"/><stop offset="0.7638" stop-color="rgb(181,181,181)"/><stop offset="0.7739" stop-color="rgb(181,181,181)"/><stop offset="0.7839" stop-color="rgb(181,181,181)"/><stop offset="0.7940" stop-color="rgb(175,175,175)"/><stop offset="0.8040" stop-color="rgb(162,162,162)"/><stop offset="0.8141" stop-color="rgb(149,149,149)"/><stop offset="0.8241" stop-color="rgb(140,140,140)"/><stop offset="0.8342" stop-color="rgb(140,140,140)"/><stop offset="0.8442" stop-color="rgb(124,124,124)"/><stop offset="0.8543" stop-color="rgb(126,126,126)"/><stop offset="0.8643" stop-color="rgb(110,110,110)"/><stop offset="0.8744" stop-color="rgb(107,107,107)"/><stop offset="0.8844" stop-color="rgb(107,107,107)"/><stop offset="0.8945" stop-color="rgb(107,107,107)"/><stop offset="0.9045" stop-color="rgb(107,107,107)"/><stop offset="0.9146" stop-color="rgb(107,107,107)"/><stop offset="0.9246" stop-color="rgb(107,107,107)"/><stop offset="0.9347" stop-color="rgb(107,107,107)"/><stop offset="0.9447" stop-color="rgb(107,107,107)"/><stop offset="0.9548" stop-color="rgb(107,107,107)"/><stop offset="0.9648" stop-color="rgb(129,129,129)"/><stop offset="0.9749" stop-color="rgb(137,137,137)"/><stop offset="0.9849" stop-color="rgb(159,159,159)"/><stop offset="0.9950" stop-color="rgb(167,167,167)"/></linearGradient>
<filter id="f3_c" x="0" y="0" width="100%" height="100%" color-interpolation-filters="sRGB" filterUnits="objectBoundingBox">
<feTurbulence type="fractalNoise" baseFrequency="0.3 0.1" numOctaves="2" seed="17" result="n0"/>
<feColorMatrix in="n0" type="matrix" values="1 0 0 0 0  1 0 0 0 0  1 0 0 0 0  0 0 0 0 1" result="n"/>
<feComposite in="SourceGraphic" in2="n" operator="arithmetic" k1="0" k2="1" k3="0.36" k4="-0.18" result="v"/>
<feColorMatrix in="v" type="matrix" values="1 0 0 0 0  1 0 0 0 0  1 0 0 0 0  0 0 0 0 1" result="v2"/>
<feComponentTransfer in="v2" result="c">
<feFuncR type="table" tableValues="0.157 0.137 0.118 0.098 0.078 0.083 0.088 0.093 0.098 0.092 0.086 0.080 0.078 0.078 0.078 0.078 0.078 0.077 0.069 0.060 0.063 0.068 0.073 0.077 0.082 0.105 0.201 0.297 0.392 0.515 0.637 0.711 0.752 0.784 0.784 0.784 0.784 0.784 0.784 0.784 0.784"/>
<feFuncG type="table" tableValues="0.078 0.108 0.137 0.167 0.196 0.235 0.275 0.314 0.353 0.404 0.456 0.507 0.538 0.563 0.588 0.602 0.616 0.626 0.618 0.609 0.615 0.624 0.633 0.642 0.652 0.662 0.676 0.691 0.706 0.690 0.673 0.637 0.588 0.538 0.483 0.428 0.373 0.319 0.265 0.211 0.157"/>
<feFuncB type="table" tableValues="0.667 0.686 0.706 0.725 0.745 0.755 0.765 0.775 0.784 0.766 0.748 0.729 0.703 0.675 0.647 0.577 0.507 0.423 0.284 0.145 0.115 0.111 0.108 0.104 0.101 0.097 0.091 0.085 0.078 0.078 0.078 0.083 0.092 0.097 0.091 0.085 0.078 0.078 0.078 0.078 0.078"/>
</feComponentTransfer><feTurbulence type="fractalNoise" baseFrequency="0.35 0.12" numOctaves="1" seed="67" result="m0"/>
<feColorMatrix in="m0" type="matrix" values="1 0 0 0 0  1 0 0 0 0  1 0 0 0 0  0 0 0 0 1" result="m"/>
<feComposite in="c" in2="m" operator="arithmetic" k1="1.2" k2="0.4" k3="0" k4="0" result="sh"/>
<feTurbulence type="fractalNoise" baseFrequency="0.12 0.25" numOctaves="2" seed="107" result="dn"/>
<feDisplacementMap in="sh" in2="dn" scale="7" xChannelSelector="R" yChannelSelector="G"/>
</filter>
<linearGradient id="g3_d" x1="0" y1="0" x2="0" y2="1"><stop offset="0.0000" stop-color="rgb(199,199,199)"/><stop offset="0.0101" stop-color="rgb(199,199,199)"/><stop offset="0.0201" stop-color="rgb(196,196,196)"/><stop offset="0.0302" stop-color="rgb(177,177,177)"/><stop offset="0.0402" stop-color="rgb(158,158,158)"/><stop offset="0.0503" stop-color="rgb(140,140,140)"/><stop offset="0.0603" stop-color="rgb(140,140,140)"/><stop offset="0.0704" stop-color="rgb(140,140,140)"/><stop offset="0.0804" stop-color="rgb(140,140,140)"/><stop offset="0.0905" stop-color="rgb(119,119,119)"/><stop offset="0.1005" stop-color="rgb(107,107,107)"/><stop offset="0.1106" stop-color="rgb(85,85,85)"/><stop offset="0.1206" stop-color="rgb(82,82,82)"/><stop offset="0.1307" stop-color="rgb(82,82,82)"/><stop offset="0.1407" stop-color="rgb(82,82,82)"/><stop offset="0.1508" stop-color="rgb(82,82,82)"/><stop offset="0.1608" stop-color="rgb(82,82,82)"/><stop offset="0.1709" stop-color="rgb(82,82,82)"/><stop offset="0.1809" stop-color="rgb(95,95,95)"/><stop offset="0.1910" stop-color="rgb(126,126,126)"/><stop offset="0.2010" stop-color="rgb(167,167,167)"/><stop offset="0.2111" stop-color="rgb(199,199,199)"/><stop offset="0.2211" stop-color="rgb(199,199,199)"/><stop offset="0.2312" stop-color="rgb(199,199,199)"/><stop offset="0.2412" stop-color="rgb(199,199,199)"/><stop offset="0.2513" stop-color="rgb(189,189,189)"/><stop offset="0.2613" stop-color="rgb(170,170,170)"/><stop offset="0.2714" stop-color="rgb(151,151,151)"/><stop offset="0.2814" stop-color="rgb(140,140,140)"/><stop offset="0.2915" stop-color="rgb(140,140,140)"/><stop offset="0.3015" stop-color="rgb(135,135,135)"/><stop offset="0.3116" stop-color="rgb(122,122,122)"/><stop offset="0.3216" stop-color="rgb(99,99,99)"/><stop offset="0.3317" stop-color="rgb(79,79,79)"/><stop offset="0.3417" stop-color="rgb(79,79,79)"/><stop offset="0.3518" stop-color="rgb(79,79,79)"/><stop offset="0.3618" stop-color="rgb(79,79,79)"/><stop offset="0.3719" stop-color="rgb(79,79,79)"/><stop offset="0.3819" stop-color="rgb(79,79,79)"/><stop offset="0.3920" stop-color="rgb(79,79,79)"/><stop offset="0.4020" stop-color="rgb(79,79,79)"/><stop offset="0.4121" stop-color="rgb(79,79,79)"/><stop offset="0.4221" stop-color="rgb(112,112,112)"/><stop offset="0.4322" stop-color="rgb(145,145,145)"/><stop offset="0.4422" stop-color="rgb(188,188,188)"/><stop offset="0.4523" stop-color="rgb(201,201,201)"/><stop offset="0.4623" stop-color="rgb(201,201,201)"/><stop offset="0.4724" stop-color="rgb(201,201,201)"/><stop offset="0.4824" stop-color="rgb(184,184,184)"/><stop offset="0.4925" stop-color="rgb(164,164,164)"/><stop offset="0.5025" stop-color="rgb(144,144,144)"/><stop offset="0.5126" stop-color="rgb(140,140,140)"/><stop offset="0.5226" stop-color="rgb(140,140,140)"/><stop offset="0.5327" stop-color="rgb(125,125,125)"/><stop offset="0.5427" stop-color="rgb(111,111,111)"/><stop offset="0.5528" stop-color="rgb(86,86,86)"/><stop offset="0.5628" stop-color="rgb(74,74,74)"/><stop offset="0.5729" stop-color="rgb(74,74,74)"/><stop offset="0.5829" stop-color="rgb(74,74,74)"/><stop offset="0.5930" stop-color="rgb(74,74,74)"/><stop offset="0.6030" stop-color="rgb(74,74,74)"/><stop offset="0.6131" stop-color="rgb(74,74,74)"/><stop offset="0.6231" stop-color="rgb(74,74,74)"/><stop offset="0.6332" stop-color="rgb(74,74,74)"/><stop offset="0.6432" stop-color="rgb(80,80,80)"/><stop offset="0.6533" stop-color="rgb(125,125,125)"/><stop offset="0.6633" stop-color="rgb(159,159,159)"/><stop offset="0.6734" stop-color="rgb(201,201,201)"/><stop offset="0.6834" stop-color="rgb(201,201,201)"/><stop offset="0.6935" stop-color="rgb(201,201,201)"/><stop offset="0.7035" stop-color="rgb(201,201,201)"/><stop offset="0.7136" stop-color="rgb(201,201,201)"/><stop offset="0.7236" stop-color="rgb(194,194,194)"/><stop offset="0.7337" stop-color="rgb(174,174,174)"/><stop offset="0.7437" stop-color="rgb(154,154,154)"/><stop offset="0.7538" stop-color="rgb(140,140,140)"/><stop offset="0.7638" stop-color="rgb(140,140,140)"/><stop offset="0.7739" stop-color="rgb(130,130,130)"/><stop offset="0.7839" stop-color="rgb(117,117,117)"/><stop offset="0.7940" stop-color="rgb(94,94,94)"/><stop offset="0.8040" stop-color="rgb(79,79,79)"/><stop offset="0.8141" stop-color="rgb(79,79,79)"/><stop offset="0.8241" stop-color="rgb(79,79,79)"/><stop offset="0.8342" stop-color="rgb(79,79,79)"/><stop offset="0.8442" stop-color="rgb(79,79,79)"/><stop offset="0.8543" stop-color="rgb(79,79,79)"/><stop offset="0.8643" stop-color="rgb(79,79,79)"/><stop offset="0.8744" stop-color="rgb(79,79,79)"/><stop offset="0.8844" stop-color="rgb(79,79,79)"/><stop offset="0.8945" stop-color="rgb(81,81,81)"/><stop offset="0.9045" stop-color="rgb(124,124,124)"/><stop offset="0.9146" stop-color="rgb(158,158,158)"/><stop offset="0.9246" stop-color="rgb(201,201,201)"/><stop offset="0.9347" stop-color="rgb(201,201,201)"/><stop offset="0.9447" stop-color="rgb(201,201,201)"/><stop offset="0.9548" stop-color="rgb(201,201,201)"/><stop offset="0.9648" stop-color="rgb(180,180,180)"/><stop offset="0.9749" stop-color="rgb(160,160,160)"/><stop offset="0.9849" stop-color="rgb(140,140,140)"/><stop offset="0.9950" stop-color="rgb(140,140,140)"/></linearGradient>
<filter id="f3_d" x="0" y="0" width="100%" height="100%" color-interpolation-filters="sRGB" filterUnits="objectBoundingBox">
<feTurbulence type="fractalNoise" baseFrequency="0.3 0.1" numOctaves="2" seed="19" result="n0"/>
<feColorMatrix in="n0" type="matrix" values="1 0 0 0 0  1 0 0 0 0  1 0 0 0 0  0 0 0 0 1" result="n"/>
<feComposite in="SourceGraphic" in2="n" operator="arithmetic" k1="0" k2="1" k3="0.38" k4="-0.19" result="v"/>
<feColorMatrix in="v" type="matrix" values="1 0 0 0 0  1 0 0 0 0  1 0 0 0 0  0 0 0 0 1" result="v2"/>
<feComponentTransfer in="v2" result="c">
<feFuncR type="table" tableValues="0.157 0.137 0.118 0.098 0.078 0.083 0.088 0.093 0.098 0.092 0.086 0.080 0.078 0.078 0.078 0.078 0.078 0.077 0.069 0.060 0.063 0.068 0.073 0.077 0.082 0.105 0.201 0.297 0.392 0.515 0.637 0.711 0.752 0.784 0.784 0.784 0.784 0.784 0.784 0.784 0.784"/>
<feFuncG type="table" tableValues="0.078 0.108 0.137 0.167 0.196 0.235 0.275 0.314 0.353 0.404 0.456 0.507 0.538 0.563 0.588 0.602 0.616 0.626 0.618 0.609 0.615 0.624 0.633 0.642 0.652 0.662 0.676 0.691 0.706 0.690 0.673 0.637 0.588 0.538 0.483 0.428 0.373 0.319 0.265 0.211 0.157"/>
<feFuncB type="table" tableValues="0.667 0.686 0.706 0.725 0.745 0.755 0.765 0.775 0.784 0.766 0.748 0.729 0.703 0.675 0.647 0.577 0.507 0.423 0.284 0.145 0.115 0.111 0.108 0.104 0.101 0.097 0.091 0.085 0.078 0.078 0.078 0.083 0.092 0.097 0.091 0.085 0.078 0.078 0.078 0.078 0.078"/>
</feComponentTransfer><feTurbulence type="fractalNoise" baseFrequency="0.35 0.12" numOctaves="1" seed="69" result="m0"/>
<feColorMatrix in="m0" type="matrix" values="1 0 0 0 0  1 0 0 0 0  1 0 0 0 0  0 0 0 0 1" result="m"/>
<feComposite in="c" in2="m" operator="arithmetic" k1="1.2" k2="0.4" k3="0" k4="0" result="sh"/>
<feTurbulence type="fractalNoise" baseFrequency="0.12 0.25" numOctaves="2" seed="109" result="dn"/>
<feDisplacementMap in="sh" in2="dn" scale="7" xChannelSelector="R" yChannelSelector="G"/>
</filter>
<linearGradient id="dl" x1="0" y1="0" x2="0" y2="1"><stop offset="0" stop-color="#005a00" stop-opacity="0"/><stop offset="0.5" stop-color="#005a00" stop-opacity="0.6"/><stop offset="1" stop-color="#005a00" stop-opacity="0"/></linearGradient>
<linearGradient id="chbg" x1="0" y1="0" x2="0" y2="1"><stop offset="0" stop-color="#dbf2fd"/><stop offset="0.2" stop-color="#dff4fd"/><stop offset="0.45" stop-color="#eaf7fd"/><stop offset="0.65" stop-color="#f6fbfe"/><stop offset="0.8" stop-color="#fcfeff"/><stop offset="1" stop-color="#ffffff"/></linearGradient>
</defs>
<line x1="88" y1="212" x2="247" y2="19.5" stroke="#777777" stroke-width="1.5"/>
<line x1="247" y1="19.5" x2="550" y2="79" stroke="#777777" stroke-width="1.5"/>
<line x1="247" y1="19.5" x2="247" y2="38" stroke="#777777" stroke-width="1.5"/>
<line x1="550" y1="79" x2="550" y2="98.7" stroke="#777777" stroke-width="1.5"/>
<line x1="550" y1="98.7" x2="465" y2="345" stroke="#777777" stroke-width="1.5"/>
<line x1="90.9" y1="242.7" x2="465" y2="345" stroke="#777777" stroke-width="1.5"/>
<line x1="465" y1="345" x2="470" y2="322" stroke="#777777" stroke-width="1.5"/>
<line x1="584" y1="227" x2="739.5" y2="36.5" stroke="#777777" stroke-width="1.5"/>
<line x1="739.5" y1="36.5" x2="1036.7" y2="96" stroke="#777777" stroke-width="1.5"/>
<line x1="739.5" y1="36.5" x2="740" y2="47" stroke="#777777" stroke-width="1.5"/>
<line x1="1036.7" y1="96" x2="1036" y2="104" stroke="#777777" stroke-width="1.5"/>
<line x1="1036" y1="104" x2="954.6" y2="354.6" stroke="#777777" stroke-width="1.5"/>
<line x1="585.6" y1="254" x2="954.6" y2="354.6" stroke="#777777" stroke-width="1.5"/>
<line x1="954.6" y1="354.6" x2="958" y2="340" stroke="#777777" stroke-width="1.5"/>
<line x1="1075" y1="240" x2="1237" y2="39" stroke="#777777" stroke-width="1.5"/>
<line x1="1237" y1="39" x2="1548" y2="101" stroke="#777777" stroke-width="1.5"/>
<line x1="1237" y1="39" x2="1237" y2="52" stroke="#777777" stroke-width="1.5"/>
<line x1="1548" y1="101" x2="1548" y2="113" stroke="#777777" stroke-width="1.5"/>
<line x1="1548" y1="113" x2="1461.6" y2="370" stroke="#777777" stroke-width="1.5"/>
<line x1="1077" y1="266" x2="1461.6" y2="370" stroke="#777777" stroke-width="1.5"/>
<line x1="1461.6" y1="370" x2="1465" y2="352" stroke="#777777" stroke-width="1.5"/>
<line x1="1587" y1="252" x2="1746.8" y2="56" stroke="#777777" stroke-width="1.5"/>
<line x1="1746.8" y1="56" x2="2051" y2="116.6" stroke="#777777" stroke-width="1.5"/>
<line x1="1746.8" y1="56" x2="1747" y2="64" stroke="#777777" stroke-width="1.5"/>
<line x1="2051" y1="116.6" x2="2051" y2="124" stroke="#777777" stroke-width="1.5"/>
<line x1="2051" y1="124" x2="1967" y2="382" stroke="#777777" stroke-width="1.5"/>
<line x1="1588.8" y1="280" x2="1967" y2="382" stroke="#777777" stroke-width="1.5"/>
<line x1="1967" y1="382" x2="1970" y2="366" stroke="#777777" stroke-width="1.5"/>
<rect x="143" y="446" width="311.0" height="311.0" fill="url(#g_a1)" filter="url(#f_a1)"/>
<rect x="474.6" y="461.4" width="16.1" height="284.0" fill="url(#cbar)"/>
<text x="475.1" y="454.4" font-family="'Liberation Sans', Arial, sans-serif" font-size="13" fill="#1a1a1a">2.44</text>
<text x="474.1" y="758.4" font-family="'Liberation Sans', Arial, sans-serif" font-size="13" fill="#1a1a1a">-1.521</text>
<line x1="489.7" y1="641" x2="498.7" y2="641" stroke="#777" stroke-width="1.3"/>
<text x="500.7" y="634" font-family="'Liberation Sans', Arial, sans-serif" font-size="12" fill="#555">0</text>
<rect x="138" y="793" width="311.4" height="312.0" fill="url(#g_b1)" filter="url(#f_b1)"/>
<rect x="469" y="812" width="18.0" height="280.0" fill="url(#cbar)"/>
<text x="469.5" y="805" font-family="'Liberation Sans', Arial, sans-serif" font-size="13" fill="#1a1a1a">2.728</text>
<text x="468.5" y="1105" font-family="'Liberation Sans', Arial, sans-serif" font-size="13" fill="#1a1a1a">-1.743</text>
<line x1="486" y1="986" x2="495" y2="986" stroke="#777" stroke-width="1.3"/>
<text x="497" y="979" font-family="'Liberation Sans', Arial, sans-serif" font-size="12" fill="#555">0</text>
<line x1="260" y1="793" x2="260" y2="1105" stroke="#0a3a1a" stroke-width="2.6" opacity="0.55"/>
<polygon points="255.5,935 264.5,935 260,943" fill="#ff1a1a"/>
<rect x="135" y="1140" width="312.0" height="310.5" fill="url(#g_c1)" filter="url(#f_c1)"/>
<rect x="462" y="1152.5" width="16.0" height="284.5" fill="url(#cbar)"/>
<text x="462.5" y="1145.5" font-family="'Liberation Sans', Arial, sans-serif" font-size="13" fill="#1a1a1a">2.427</text>
<text x="461.5" y="1450" font-family="'Liberation Sans', Arial, sans-serif" font-size="13" fill="#1a1a1a">-2.889</text>
<line x1="477" y1="1285" x2="486" y2="1285" stroke="#777" stroke-width="1.3"/>
<text x="488" y="1278" font-family="'Liberation Sans', Arial, sans-serif" font-size="12" fill="#555">0</text>
<rect x="132" y="1494" width="322.0" height="321.0" fill="url(#g_d1)" filter="url(#f_d1)"/>
<rect x="473" y="1513" width="16.5" height="284.0" fill="url(#cbar)"/>
<text x="473.5" y="1506" font-family="'Liberation Sans', Arial, sans-serif" font-size="13" fill="#1a1a1a">1.637</text>
<text x="472.5" y="1810" font-family="'Liberation Sans', Arial, sans-serif" font-size="13" fill="#1a1a1a">-1.815</text>
<line x1="488.5" y1="1660.6" x2="497.5" y2="1660.6" stroke="#777" stroke-width="1.3"/>
<text x="499.5" y="1653.6" font-family="'Liberation Sans', Arial, sans-serif" font-size="12" fill="#555">0</text>
<rect x="641.5" y="441.4" width="1448.8" height="268.8" fill="url(#chbg)"/>
<clipPath id="cp_a1"><rect x="641.5" y="441.4" width="1448.8" height="268.8"/></clipPath><path d="M642.0,552.0 L656.1,552.0 L661.4,573.6 L670.2,580.7 L677.3,582.4 L684.3,586.0 L694.9,582.4 L704.6,583.3 L711.7,595.7 L719.6,591.3 L726.6,583.3 L732.8,571.0 L736.3,556.9 L739.9,542.8 L742.9,556.9 L746.4,573.6 L751.3,546.3 L760.1,526.9 L768.1,538.4 L774.2,541.4 L779.5,540.2 L788.3,541.0 L800.7,539.3 L814.8,541.0 L821.8,536.6 L830.6,532.2 L835.9,526.9 L843.8,516.0 L850.9,524.3 L858.0,531.3 L870.3,531.3 L878.2,537.5 L885.3,532.2 L893.2,526.6 L899.4,526.1 L907.3,527.3 L912.6,551.6 L918.7,581.6 L925.8,590.4 L934.6,595.7 L945.2,598.3 L954.0,602.7 L961.9,598.3 L968.1,595.7 L975.1,609.8 L982.2,618.6 L991.0,625.6 L995.3,646.8 L1003.2,643.3 L1016.4,617.7 L1024.4,618.6 L1031.4,625.6 L1039.3,623.9 L1050.8,586.0 L1065.8,596.5 L1073.7,593.0 L1085.2,563.1 L1094.0,565.7 L1099.3,560.4 L1109.0,554.2 L1114.2,539.3 L1123.1,539.3 L1134.5,523.4 L1143.3,520.8 L1149.5,516.4 L1156.5,516.4 L1162.7,511.1 L1169.8,518.1 L1176.8,517.2 L1183.9,512.0 L1190.9,516.4 L1198.0,519.0 L1205.9,511.1 L1211.2,510.2 L1219.1,512.8 L1229.7,519.0 L1236.7,526.9 L1243.8,541.0 L1254.4,556.9 L1262.3,563.1 L1268.5,572.8 L1272.9,581.6 L1278.2,605.4 L1292.3,601.8 L1302.0,568.4 L1308.1,580.7 L1325.7,571.0 L1336.3,617.7 L1342.5,618.6 L1359.1,600.1 L1366.1,603.6 L1372.3,596.5 L1378.5,600.1 L1382.9,617.7 L1397.9,609.8 L1405.8,603.6 L1412.9,602.7 L1417.3,588.6 L1427.8,589.5 L1434.9,587.7 L1446.3,569.2 L1452.5,570.1 L1468.4,586.0 L1477.2,589.5 L1487.8,559.5 L1500.1,565.7 L1507.1,571.0 L1516.8,578.9 L1521.2,578.9 L1531.8,572.8 L1540.6,560.4 L1546.8,560.4 L1556.5,578.9 L1567.1,584.2 L1574.1,584.2 L1580.3,581.6 L1591.7,585.1 L1603.2,571.9 L1612.9,580.7 L1619.9,583.3 L1627.0,592.1 L1627.0,602.7 L1644.6,608.0 L1649.9,612.4 L1655.2,619.5 L1673.7,595.7 L1679.0,568.4 L1686.0,593.0 L1686.9,622.1 L1690.4,631.8 L1707.4,608.9 L1717.9,611.5 L1729.8,619.4 L1741.7,612.8 L1753.6,579.8 L1760.2,577.2 L1766.8,585.1 L1786.6,579.8 L1797.2,564.0 L1811.7,561.3 L1824.9,552.1 L1830.2,550.7 L1836.8,537.5 L1847.3,532.3 L1854.0,540.2 L1859.2,537.5 L1869.8,538.9 L1887.0,536.2 L1898.8,549.4 L1904.1,542.8 L1914.7,548.1 L1922.6,550.7 L1927.9,557.3 L1933.2,567.9 L1938.5,552.1 L1951.7,545.5 L1953.0,562.6 L1959.6,575.8 L1967.5,606.2 L1974.1,610.2 L1984.7,632.6 L1991.3,627.3 L1997.9,624.7 L2003.2,640.5 L2009.8,640.5 L2020.3,636.6 L2030.9,631.3 L2044.1,637.9 L2056.0,639.2 L2066.6,652.4 L2073.2,648.5 L2090.0,653.0" fill="none" stroke="#0a7fc0" stroke-width="3.4" stroke-linejoin="round" stroke-linecap="round" clip-path="url(#cp_a1)"/>
<line x1="641.5" y1="441.4" x2="2090.3" y2="441.4" stroke="#707070" stroke-width="2.2"/>
<line x1="641.5" y1="710.2" x2="2091.8" y2="710.2" stroke="#6a6a6a" stroke-width="3"/>
<line x1="2090.3" y1="440.4" x2="2090.3" y2="711.7" stroke="#222" stroke-width="3"/>
<line x1="641.5" y1="440.4" x2="641.5" y2="711.7" stroke="#1a1a1a" stroke-width="3"/>
<line x1="641.5" y1="463.5" x2="648.5" y2="463.5" stroke="#222" stroke-width="2.2"/>
<line x1="641.5" y1="486.1" x2="656.5" y2="486.1" stroke="#222" stroke-width="2.2"/>
<line x1="641.5" y1="508.4" x2="648.5" y2="508.4" stroke="#222" stroke-width="2.2"/>
<line x1="641.5" y1="531" x2="656.5" y2="531" stroke="#222" stroke-width="2.2"/>
<line x1="641.5" y1="553.3" x2="648.5" y2="553.3" stroke="#222" stroke-width="2.2"/>
<line x1="641.5" y1="575.6" x2="656.5" y2="575.6" stroke="#222" stroke-width="2.2"/>
<line x1="641.5" y1="598.2" x2="648.5" y2="598.2" stroke="#222" stroke-width="2.2"/>
<line x1="641.5" y1="620.8" x2="656.5" y2="620.8" stroke="#222" stroke-width="2.2"/>
<line x1="641.5" y1="643.1" x2="648.5" y2="643.1" stroke="#222" stroke-width="2.2"/>
<line x1="641.5" y1="665.7" x2="656.5" y2="665.7" stroke="#222" stroke-width="2.2"/>
<line x1="641.5" y1="688" x2="648.5" y2="688" stroke="#222" stroke-width="2.2"/>
<line x1="786.4" y1="706.7" x2="786.4" y2="710.2" stroke="#111" stroke-width="4"/>
<line x1="931.3" y1="703.2" x2="931.3" y2="710.2" stroke="#111" stroke-width="4"/>
<line x1="1076.1" y1="706.7" x2="1076.1" y2="710.2" stroke="#111" stroke-width="4"/>
<line x1="1221.0" y1="703.2" x2="1221.0" y2="710.2" stroke="#111" stroke-width="4"/>
<line x1="1365.9" y1="706.7" x2="1365.9" y2="710.2" stroke="#111" stroke-width="4"/>
<line x1="1510.8" y1="703.2" x2="1510.8" y2="710.2" stroke="#111" stroke-width="4"/>
<line x1="1655.7" y1="706.7" x2="1655.7" y2="710.2" stroke="#111" stroke-width="4"/>
<line x1="1800.5" y1="703.2" x2="1800.5" y2="710.2" stroke="#111" stroke-width="4"/>
<line x1="1945.4" y1="706.7" x2="1945.4" y2="710.2" stroke="#111" stroke-width="4"/>
<text transform="translate(614.0,466.6) scale(1.25,1)" text-anchor="middle" font-family="'Liberation Serif', 'Times New Roman', serif" font-size="40" fill="#111" stroke="#111" stroke-width="0.35">3</text>
<text transform="translate(612.0,545.0) scale(1.25,1)" text-anchor="middle" font-family="'Liberation Serif', 'Times New Roman', serif" font-size="40" fill="#111" stroke="#111" stroke-width="0.35">2</text>
<text transform="translate(610.0,631.6) scale(1.05,1)" text-anchor="middle" font-family="'Liberation Serif', 'Times New Roman', serif" font-size="40" fill="#111" stroke="#111" stroke-width="0.35">1</text>
<text transform="translate(612.0,717.7) scale(1.25,1)" text-anchor="middle" font-family="'Liberation Serif', 'Times New Roman', serif" font-size="40" fill="#111" stroke="#111" stroke-width="0.35">0</text>
<circle cx="628.0" cy="714.7" r="1.5" fill="#b05020"/>
<text transform="translate(640.0,750) scale(1.194,1)" text-anchor="middle" font-family="'Liberation Serif', 'Times New Roman', serif" font-size="42" fill="#111" stroke="#111" stroke-width="0.35">0</text>
<text transform="translate(928.2,750) scale(1.236,1)" text-anchor="middle" font-family="'Liberation Serif', 'Times New Roman', serif" font-size="42" fill="#111" stroke="#111" stroke-width="0.35">50</text>
<text transform="translate(1216.3,750) scale(1.105,1)" text-anchor="middle" font-family="'Liberation Serif', 'Times New Roman', serif" font-size="42" fill="#111" stroke="#111" stroke-width="0.35">100</text>
<text transform="translate(1504.5,750) scale(1.096,1)" text-anchor="middle" font-family="'Liberation Serif', 'Times New Roman', serif" font-size="42" fill="#111" stroke="#111" stroke-width="0.35">150</text>
<text transform="translate(1792.6,750) scale(1.138,1)" text-anchor="middle" font-family="'Liberation Serif', 'Times New Roman', serif" font-size="42" fill="#111" stroke="#111" stroke-width="0.35">200</text>
<text transform="translate(2080.8,750) scale(1.138,1)" text-anchor="middle" font-family="'Liberation Serif', 'Times New Roman', serif" font-size="42" fill="#111" stroke="#111" stroke-width="0.35">250</text>
<text x="580" y="610" transform="rotate(-90 580 610)" text-anchor="middle" font-family="'Liberation Serif', 'Times New Roman', serif" font-size="49" fill="#111">Height/μm</text>
<text x="26" y="479.5" font-family="'Liberation Serif', 'Times New Roman', serif" font-size="66" fill="#000">(a<tspan font-size="43" dy="14">1</tspan><tspan dy="-14" dx="-1">)</tspan></text>
<rect x="634.9" y="780.0" width="1454.3" height="279.2" fill="url(#chbg)"/>
<clipPath id="cp_b1"><rect x="634.9" y="780.0" width="1454.3" height="279.2"/></clipPath><path d="M635.0,826.4 L649.1,826.4 L656.2,822.0 L663.2,823.8 L673.8,811.4 L684.4,798.2 L696.7,817.6 L703.8,834.3 L712.6,837.9 L718.8,837.0 L726.7,847.5 L733.7,865.2 L739.0,889.0 L747.0,894.2 L753.1,892.5 L762.0,902.2 L767.2,920.7 L777.8,926.0 L788.4,933.0 L802.5,928.6 L808.6,958.6 L825.4,948.9 L837.7,953.3 L843.0,948.9 L851.0,935.7 L864.2,943.6 L873.0,945.4 L880.0,932.1 L892.4,920.7 L900.3,921.6 L908.2,923.3 L914.4,903.9 L921.4,903.1 L929.4,889.8 L934.7,859.9 L941.7,845.8 L947.9,870.5 L955.8,862.5 L963.7,866.9 L969.0,845.8 L977.8,840.5 L983.1,857.2 L990.0,866.9 L997.1,858.1 L1004.1,855.5 L1012.1,859.0 L1019.1,854.6 L1026.2,857.2 L1039.4,847.5 L1053.5,835.2 L1059.7,852.8 L1074.6,846.7 L1081.7,845.8 L1089.6,841.4 L1094.0,896.9 L1102.0,921.6 L1109.9,921.6 L1117.0,907.5 L1130.2,939.2 L1143.4,939.2 L1151.3,948.0 L1159.2,966.5 L1164.5,953.3 L1172.5,942.7 L1186.6,968.3 L1194.5,962.1 L1201.5,959.5 L1212.1,953.3 L1222.7,949.8 L1228.9,951.5 L1241.2,930.4 L1249.1,919.8 L1258.8,912.8 L1262.3,889.8 L1266.8,882.8 L1273.8,866.1 L1284.4,867.8 L1292.3,866.9 L1298.5,854.6 L1309.0,848.4 L1326.7,832.6 L1331.1,826.4 L1339.0,807.9 L1343.3,804.4 L1350.3,801.7 L1357.4,802.6 L1362.7,807.0 L1368.0,816.7 L1373.2,818.5 L1381.2,822.9 L1390.9,823.8 L1397.0,814.1 L1402.3,821.1 L1408.5,834.3 L1416.4,835.2 L1427.9,844.0 L1432.3,851.1 L1434.1,868.7 L1443.7,885.4 L1449.9,877.5 L1461.4,883.7 L1467.5,923.3 L1472.0,903.9 L1479.0,902.2 L1484.3,931.3 L1493.1,931.3 L1501.9,926.9 L1506.3,953.3 L1513.4,953.3 L1518.6,939.2 L1531.9,943.6 L1540.7,938.3 L1547.7,936.5 L1553.0,931.3 L1564.5,929.5 L1577.7,935.7 L1583.9,934.8 L1589.1,918.9 L1606.8,925.1 L1612.1,904.8 L1625.3,899.5 L1635.0,864.3 L1646.4,845.8 L1653.5,840.5 L1659.6,829.9 L1670.2,822.8 L1671.7,838.7 L1682.3,849.2 L1688.9,849.2 L1694.1,840.0 L1711.3,845.3 L1716.6,851.9 L1723.2,842.6 L1728.5,855.8 L1743.0,859.8 L1752.3,854.5 L1762.8,871.7 L1776.0,862.4 L1784.0,867.7 L1793.2,890.2 L1798.5,880.9 L1810.4,892.8 L1822.3,954.9 L1827.5,965.5 L1840.7,968.1 L1856.6,973.4 L1863.2,978.7 L1884.3,968.1 L1892.2,973.4 L1902.8,956.2 L1925.3,965.5 L1946.4,932.4 L1955.6,928.5 L1962.2,912.6 L1972.8,899.4 L1984.7,907.3 L1991.3,890.2 L2007.1,865.1 L2020.3,861.1 L2028.3,862.4 L2036.2,858.5 L2044.1,862.4 L2060.0,840.0 L2066.6,862.4 L2071.9,867.7 L2078.5,866.4 L2089.0,887.5" fill="none" stroke="#0a7fc0" stroke-width="3.4" stroke-linejoin="round" stroke-linecap="round" clip-path="url(#cp_b1)"/>
<line x1="634.9" y1="780.0" x2="2089.2" y2="780.0" stroke="#707070" stroke-width="2.2"/>
<line x1="634.9" y1="1059.2" x2="2090.7" y2="1059.2" stroke="#6a6a6a" stroke-width="3"/>
<line x1="2089.2" y1="779.0" x2="2089.2" y2="1060.7" stroke="#222" stroke-width="3"/>
<line x1="634.9" y1="779.0" x2="634.9" y2="1060.7" stroke="#1a1a1a" stroke-width="3"/>
<line x1="634.9" y1="801.9" x2="641.9" y2="801.9" stroke="#222" stroke-width="2.2"/>
<line x1="634.9" y1="825.6" x2="649.9" y2="825.6" stroke="#222" stroke-width="2.2"/>
<line x1="634.9" y1="848.8" x2="641.9" y2="848.8" stroke="#222" stroke-width="2.2"/>
<line x1="634.9" y1="872.3" x2="649.9" y2="872.3" stroke="#222" stroke-width="2.2"/>
<line x1="634.9" y1="895.4" x2="641.9" y2="895.4" stroke="#222" stroke-width="2.2"/>
<line x1="634.9" y1="918.9" x2="649.9" y2="918.9" stroke="#222" stroke-width="2.2"/>
<line x1="634.9" y1="942.4" x2="641.9" y2="942.4" stroke="#222" stroke-width="2.2"/>
<line x1="634.9" y1="965.8" x2="649.9" y2="965.8" stroke="#222" stroke-width="2.2"/>
<line x1="634.9" y1="989.3" x2="641.9" y2="989.3" stroke="#222" stroke-width="2.2"/>
<line x1="634.9" y1="1012.5" x2="649.9" y2="1012.5" stroke="#222" stroke-width="2.2"/>
<line x1="634.9" y1="1035.7" x2="641.9" y2="1035.7" stroke="#222" stroke-width="2.2"/>
<line x1="780.3" y1="1055.7" x2="780.3" y2="1059.2" stroke="#111" stroke-width="4"/>
<line x1="925.8" y1="1052.2" x2="925.8" y2="1059.2" stroke="#111" stroke-width="4"/>
<line x1="1071.2" y1="1055.7" x2="1071.2" y2="1059.2" stroke="#111" stroke-width="4"/>
<line x1="1216.6" y1="1052.2" x2="1216.6" y2="1059.2" stroke="#111" stroke-width="4"/>
<line x1="1362.0" y1="1055.7" x2="1362.0" y2="1059.2" stroke="#111" stroke-width="4"/>
<line x1="1507.5" y1="1052.2" x2="1507.5" y2="1059.2" stroke="#111" stroke-width="4"/>
<line x1="1652.9" y1="1055.7" x2="1652.9" y2="1059.2" stroke="#111" stroke-width="4"/>
<line x1="1798.3" y1="1052.2" x2="1798.3" y2="1059.2" stroke="#111" stroke-width="4"/>
<line x1="1943.8" y1="1055.7" x2="1943.8" y2="1059.2" stroke="#111" stroke-width="4"/>
<text transform="translate(607.0,818.8) scale(1.25,1)" text-anchor="middle" font-family="'Liberation Serif', 'Times New Roman', serif" font-size="40" fill="#111" stroke="#111" stroke-width="0.35">3</text>
<text transform="translate(605.0,897.3) scale(1.25,1)" text-anchor="middle" font-family="'Liberation Serif', 'Times New Roman', serif" font-size="40" fill="#111" stroke="#111" stroke-width="0.35">2</text>
<text transform="translate(603.0,984.7) scale(1.05,1)" text-anchor="middle" font-family="'Liberation Serif', 'Times New Roman', serif" font-size="40" fill="#111" stroke="#111" stroke-width="0.35">1</text>
<text transform="translate(605.0,1071.5) scale(1.25,1)" text-anchor="middle" font-family="'Liberation Serif', 'Times New Roman', serif" font-size="40" fill="#111" stroke="#111" stroke-width="0.35">0</text>
<circle cx="621.0" cy="1068.5" r="1.5" fill="#b05020"/>
<text transform="translate(633.4,1100) scale(1.338,1)" text-anchor="middle" font-family="'Liberation Serif', 'Times New Roman', serif" font-size="37.5" fill="#111" stroke="#111" stroke-width="0.35">0</text>
<text transform="translate(921.9,1100) scale(1.384,1)" text-anchor="middle" font-family="'Liberation Serif', 'Times New Roman', serif" font-size="37.5" fill="#111" stroke="#111" stroke-width="0.35">50</text>
<text transform="translate(1210.3,1100) scale(1.238,1)" text-anchor="middle" font-family="'Liberation Serif', 'Times New Roman', serif" font-size="37.5" fill="#111" stroke="#111" stroke-width="0.35">100</text>
<text transform="translate(1498.8,1100) scale(1.228,1)" text-anchor="middle" font-family="'Liberation Serif', 'Times New Roman', serif" font-size="37.5" fill="#111" stroke="#111" stroke-width="0.35">150</text>
<text transform="translate(1787.2,1100) scale(1.274,1)" text-anchor="middle" font-family="'Liberation Serif', 'Times New Roman', serif" font-size="37.5" fill="#111" stroke="#111" stroke-width="0.35">200</text>
<text transform="translate(2075.7,1100) scale(1.274,1)" text-anchor="middle" font-family="'Liberation Serif', 'Times New Roman', serif" font-size="37.5" fill="#111" stroke="#111" stroke-width="0.35">250</text>
<text x="576.5" y="936" transform="rotate(-90 576.5 936)" text-anchor="middle" font-family="'Liberation Serif', 'Times New Roman', serif" font-size="49" fill="#111">Height/μm</text>
<text x="24" y="832.5" font-family="'Liberation Serif', 'Times New Roman', serif" font-size="66" fill="#000">(b<tspan font-size="43" dy="14">1</tspan><tspan dy="-14" dx="-1">)</tspan></text>
<rect x="640.1" y="1141.7" width="1445.1" height="282.3" fill="url(#chbg)"/>
<clipPath id="cp_c1"><rect x="640.1" y="1141.7" width="1445.1" height="282.3"/></clipPath><path d="M653.3,1309.8 L660.3,1303.6 L668.2,1290.4 L676.2,1282.5 L681.5,1265.7 L691.2,1253.4 L703.5,1234.0 L710.5,1226.1 L717.6,1225.2 L729.1,1208.4 L738.7,1200.5 L744.0,1193.4 L751.1,1177.6 L758.1,1190.8 L765.2,1220.8 L779.3,1207.5 L792.5,1207.5 L800.4,1228.7 L805.7,1247.2 L814.5,1256.9 L819.8,1276.3 L826.9,1287.7 L834.8,1293.0 L840.1,1321.2 L848.0,1327.4 L855.9,1323.9 L862.1,1334.4 L876.2,1359.1 L882.4,1352.9 L891.2,1348.5 L897.4,1351.2 L905.3,1360.0 L915.0,1366.2 L924.7,1370.6 L931.7,1367.0 L937.9,1358.2 L945.8,1366.2 L950.2,1367.9 L959.0,1374.1 L965.2,1372.3 L972.3,1363.5 L979.3,1358.2 L990.8,1342.4 L995.0,1338.8 L1000.3,1323.9 L1007.4,1316.8 L1016.2,1314.2 L1020.6,1293.0 L1032.9,1265.7 L1042.6,1263.9 L1046.2,1257.8 L1055.9,1235.7 L1063.8,1232.2 L1074.4,1232.2 L1077.9,1233.1 L1083.2,1223.4 L1091.1,1226.1 L1096.4,1220.8 L1104.3,1219.0 L1113.1,1226.1 L1122.0,1226.1 L1129.0,1230.5 L1137.8,1242.8 L1146.6,1247.2 L1153.7,1255.1 L1166.0,1273.6 L1173.1,1276.3 L1181.9,1286.9 L1187.2,1306.2 L1194.2,1318.6 L1203.0,1332.7 L1208.3,1347.7 L1215.4,1347.7 L1223.3,1353.8 L1234.7,1341.5 L1242.7,1341.5 L1248.8,1347.7 L1255.9,1362.6 L1262.9,1366.2 L1271.8,1366.2 L1277.9,1361.8 L1285.9,1364.4 L1298.2,1348.5 L1305.2,1349.4 L1314.0,1349.4 L1326.4,1347.7 L1333.4,1335.3 L1340.5,1336.2 L1348.3,1322.1 L1359.7,1283.3 L1367.7,1283.3 L1375.6,1274.5 L1382.7,1255.1 L1390.6,1244.6 L1403.8,1238.4 L1409.1,1212.8 L1415.3,1207.5 L1424.1,1203.1 L1431.1,1181.1 L1438.2,1175.8 L1444.3,1154.7 L1452.3,1149.4 L1459.3,1152.9 L1464.6,1185.5 L1473.4,1187.3 L1478.7,1180.2 L1485.8,1190.8 L1494.6,1190.8 L1501.6,1197.9 L1506.9,1216.4 L1514.0,1216.4 L1521.0,1239.3 L1527.2,1260.4 L1535.1,1264.8 L1543.0,1279.8 L1548.3,1304.5 L1554.5,1318.6 L1568.6,1344.1 L1575.6,1346.8 L1582.7,1342.4 L1589.7,1350.3 L1602.1,1352.4 L1610.9,1354.2 L1623.2,1354.2 L1638.2,1368.8 L1645.3,1360.4 L1653.2,1365.6 L1666.4,1353.8 L1686.2,1304.9 L1692.8,1304.9 L1702.1,1315.5 L1714.0,1315.5 L1729.8,1294.3 L1737.7,1289.0 L1748.3,1262.6 L1762.8,1215.1 L1782.6,1188.7 L1795.8,1187.4 L1805.1,1178.1 L1813.0,1175.5 L1830.2,1200.6 L1840.7,1196.6 L1852.6,1219.0 L1860.6,1221.7 L1868.5,1246.8 L1877.7,1267.9 L1890.9,1299.6 L1909.4,1318.1 L1916.0,1334.0 L1925.3,1339.2 L1937.1,1347.2 L1943.7,1341.9 L1957.0,1353.8 L1970.2,1355.1 L1984.7,1359.0 L1993.9,1352.4 L1999.2,1353.8 L2007.1,1367.0 L2013.7,1365.6 L2026.9,1336.6 L2033.6,1337.9 L2048.1,1315.5 L2056.0,1316.8 L2073.2,1293.0 L2085.0,1279.0" fill="none" stroke="#0a7fc0" stroke-width="3.4" stroke-linejoin="round" stroke-linecap="round" clip-path="url(#cp_c1)"/>
<line x1="640.1" y1="1141.7" x2="2085.2" y2="1141.7" stroke="#707070" stroke-width="2.2"/>
<line x1="640.1" y1="1424.0" x2="2086.7" y2="1424.0" stroke="#6a6a6a" stroke-width="3"/>
<line x1="2085.2" y1="1140.7" x2="2085.2" y2="1425.5" stroke="#222" stroke-width="3"/>
<line x1="640.1" y1="1140.7" x2="640.1" y2="1425.5" stroke="#1a1a1a" stroke-width="3"/>
<line x1="640.1" y1="1164.9" x2="647.1" y2="1164.9" stroke="#222" stroke-width="2.2"/>
<line x1="640.1" y1="1188.7" x2="655.1" y2="1188.7" stroke="#222" stroke-width="2.2"/>
<line x1="640.1" y1="1212.1" x2="647.1" y2="1212.1" stroke="#222" stroke-width="2.2"/>
<line x1="640.1" y1="1235.9" x2="655.1" y2="1235.9" stroke="#222" stroke-width="2.2"/>
<line x1="640.1" y1="1259.1" x2="647.1" y2="1259.1" stroke="#222" stroke-width="2.2"/>
<line x1="640.1" y1="1282.8" x2="655.1" y2="1282.8" stroke="#222" stroke-width="2.2"/>
<line x1="640.1" y1="1306.3" x2="647.1" y2="1306.3" stroke="#222" stroke-width="2.2"/>
<line x1="640.1" y1="1330" x2="655.1" y2="1330" stroke="#222" stroke-width="2.2"/>
<line x1="640.1" y1="1353.5" x2="647.1" y2="1353.5" stroke="#222" stroke-width="2.2"/>
<line x1="640.1" y1="1377" x2="655.1" y2="1377" stroke="#222" stroke-width="2.2"/>
<line x1="640.1" y1="1400.4" x2="647.1" y2="1400.4" stroke="#222" stroke-width="2.2"/>
<line x1="784.6" y1="1420.5" x2="784.6" y2="1424.0" stroke="#111" stroke-width="4"/>
<line x1="929.1" y1="1417.0" x2="929.1" y2="1424.0" stroke="#111" stroke-width="4"/>
<line x1="1073.6" y1="1420.5" x2="1073.6" y2="1424.0" stroke="#111" stroke-width="4"/>
<line x1="1218.1" y1="1417.0" x2="1218.1" y2="1424.0" stroke="#111" stroke-width="4"/>
<line x1="1362.7" y1="1420.5" x2="1362.7" y2="1424.0" stroke="#111" stroke-width="4"/>
<line x1="1507.2" y1="1417.0" x2="1507.2" y2="1424.0" stroke="#111" stroke-width="4"/>
<line x1="1651.7" y1="1420.5" x2="1651.7" y2="1424.0" stroke="#111" stroke-width="4"/>
<line x1="1796.2" y1="1417.0" x2="1796.2" y2="1424.0" stroke="#111" stroke-width="4"/>
<line x1="1940.7" y1="1420.5" x2="1940.7" y2="1424.0" stroke="#111" stroke-width="4"/>
<text transform="translate(614.5,1179.9) scale(1.25,1)" text-anchor="middle" font-family="'Liberation Serif', 'Times New Roman', serif" font-size="40" fill="#111" stroke="#111" stroke-width="0.35">3</text>
<text transform="translate(612.5,1259.2) scale(1.25,1)" text-anchor="middle" font-family="'Liberation Serif', 'Times New Roman', serif" font-size="40" fill="#111" stroke="#111" stroke-width="0.35">2</text>
<text transform="translate(610.5,1346.6) scale(1.05,1)" text-anchor="middle" font-family="'Liberation Serif', 'Times New Roman', serif" font-size="40" fill="#111" stroke="#111" stroke-width="0.35">1</text>
<text transform="translate(612.5,1431.7) scale(1.25,1)" text-anchor="middle" font-family="'Liberation Serif', 'Times New Roman', serif" font-size="40" fill="#111" stroke="#111" stroke-width="0.35">0</text>
<circle cx="628.5" cy="1428.7" r="1.5" fill="#b05020"/>
<text transform="translate(638.6,1468.2) scale(1.338,1)" text-anchor="middle" font-family="'Liberation Serif', 'Times New Roman', serif" font-size="37.5" fill="#111" stroke="#111" stroke-width="0.35">0</text>
<text transform="translate(925.8,1468.2) scale(1.384,1)" text-anchor="middle" font-family="'Liberation Serif', 'Times New Roman', serif" font-size="37.5" fill="#111" stroke="#111" stroke-width="0.35">50</text>
<text transform="translate(1213.0,1468.2) scale(1.238,1)" text-anchor="middle" font-family="'Liberation Serif', 'Times New Roman', serif" font-size="37.5" fill="#111" stroke="#111" stroke-width="0.35">100</text>
<text transform="translate(1500.3,1468.2) scale(1.228,1)" text-anchor="middle" font-family="'Liberation Serif', 'Times New Roman', serif" font-size="37.5" fill="#111" stroke="#111" stroke-width="0.35">150</text>
<text transform="translate(1787.5,1468.2) scale(1.274,1)" text-anchor="middle" font-family="'Liberation Serif', 'Times New Roman', serif" font-size="37.5" fill="#111" stroke="#111" stroke-width="0.35">200</text>
<text transform="translate(2074.7,1468.2) scale(1.274,1)" text-anchor="middle" font-family="'Liberation Serif', 'Times New Roman', serif" font-size="37.5" fill="#111" stroke="#111" stroke-width="0.35">250</text>
<text x="579" y="1294" transform="rotate(-90 579 1294)" text-anchor="middle" font-family="'Liberation Serif', 'Times New Roman', serif" font-size="49" fill="#111">Height/μm</text>
<text x="24" y="1174.5" font-family="'Liberation Serif', 'Times New Roman', serif" font-size="66" fill="#000">(c<tspan font-size="43" dy="14">1</tspan><tspan dy="-14" dx="-1">)</tspan></text>
<rect x="643.9" y="1500.0" width="1443.3" height="262.5" fill="url(#chbg)"/>
<clipPath id="cp_d1"><rect x="643.9" y="1500.0" width="1443.3" height="262.5"/></clipPath><path d="M644.0,1543.5 L658.1,1542.9 L665.2,1542.0 L670.5,1551.7 L677.5,1557.0 L685.5,1558.7 L691.6,1580.8 L699.6,1579.9 L711.0,1606.3 L718.1,1611.6 L726.9,1611.6 L733.9,1614.3 L741.0,1611.6 L748.0,1611.6 L755.1,1636.3 L761.3,1649.5 L768.3,1658.3 L781.5,1685.6 L790.3,1689.2 L797.4,1695.3 L809.7,1698.0 L818.5,1697.1 L830.9,1701.5 L836.2,1694.4 L848.5,1690.0 L859.1,1686.5 L865.2,1666.2 L873.2,1655.7 L885.5,1644.2 L894.3,1646.0 L904.9,1632.8 L914.6,1634.5 L919.9,1609.8 L926.9,1597.5 L936.6,1595.7 L943.7,1583.4 L948.1,1560.5 L956.0,1562.3 L969.2,1547.3 L982.4,1547.3 L994.8,1543.8 L1003.5,1546.4 L1011.4,1539.3 L1018.4,1550.8 L1027.2,1561.4 L1037.8,1564.9 L1044.9,1571.1 L1044.9,1582.5 L1059.0,1595.7 L1066.0,1608.1 L1083.6,1627.5 L1093.3,1643.3 L1101.3,1646.9 L1115.4,1653.0 L1121.5,1670.6 L1129.5,1674.2 L1141.8,1676.8 L1156.8,1690.9 L1165.6,1686.5 L1175.3,1683.9 L1190.3,1662.7 L1200.0,1661.8 L1210.5,1658.3 L1219.4,1659.2 L1231.7,1654.8 L1240.5,1647.7 L1256.4,1636.3 L1259.9,1623.1 L1269.6,1609.8 L1279.3,1592.2 L1289.9,1588.7 L1307.5,1563.1 L1325.1,1559.6 L1331.3,1542.0 L1337.4,1539.3 L1355.8,1536.7 L1364.6,1534.9 L1370.8,1538.5 L1377.0,1548.2 L1382.2,1568.4 L1392.8,1579.9 L1398.1,1592.2 L1405.2,1593.1 L1412.2,1596.6 L1417.5,1611.6 L1427.2,1629.2 L1435.1,1633.6 L1440.4,1639.8 L1451.0,1661.0 L1463.3,1668.0 L1468.6,1683.9 L1478.3,1687.4 L1503.9,1697.1 L1514.4,1713.8 L1521.5,1726.2 L1538.2,1710.3 L1549.7,1711.2 L1567.3,1694.4 L1573.5,1693.6 L1577.9,1683.9 L1600.8,1663.6 L1606.1,1652.1 L1614.9,1626.6 L1623.7,1605.4 L1636.9,1600.1 L1647.9,1575.1 L1658.5,1567.2 L1670.4,1547.4 L1679.6,1554.0 L1694.1,1559.2 L1706.0,1555.3 L1716.6,1555.3 L1727.2,1572.4 L1739.0,1581.7 L1749.6,1598.9 L1761.5,1624.0 L1774.7,1627.9 L1786.6,1624.0 L1791.9,1630.6 L1807.7,1666.2 L1819.6,1676.8 L1830.2,1693.9 L1840.7,1699.2 L1850.0,1696.6 L1860.5,1713.8 L1867.2,1715.1 L1883.0,1707.2 L1896.2,1713.8 L1901.5,1700.5 L1917.3,1678.1 L1930.5,1670.2 L1937.1,1655.6 L1946.4,1654.3 L1958.3,1630.6 L1966.2,1629.2 L1978.1,1605.5 L1984.7,1597.5 L1988.6,1587.0 L2001.9,1579.0 L2007.1,1576.4 L2016.4,1557.9 L2030.9,1547.4 L2040.2,1543.4 L2050.7,1546.0 L2057.3,1554.0 L2062.6,1556.6 L2069.2,1547.4 L2086.4,1552.6" fill="none" stroke="#0a7fc0" stroke-width="3.4" stroke-linejoin="round" stroke-linecap="round" clip-path="url(#cp_d1)"/>
<line x1="643.9" y1="1500.0" x2="2087.2" y2="1500.0" stroke="#707070" stroke-width="2.2"/>
<line x1="643.9" y1="1762.5" x2="2088.7" y2="1762.5" stroke="#6a6a6a" stroke-width="3"/>
<line x1="2087.2" y1="1499.0" x2="2087.2" y2="1764.0" stroke="#222" stroke-width="3"/>
<line x1="643.9" y1="1499.0" x2="643.9" y2="1764.0" stroke="#1a1a1a" stroke-width="3"/>
<line x1="643.9" y1="1522" x2="650.9" y2="1522" stroke="#222" stroke-width="2.2"/>
<line x1="643.9" y1="1543.7" x2="658.9" y2="1543.7" stroke="#222" stroke-width="2.2"/>
<line x1="643.9" y1="1565.5" x2="650.9" y2="1565.5" stroke="#222" stroke-width="2.2"/>
<line x1="643.9" y1="1587.8" x2="658.9" y2="1587.8" stroke="#222" stroke-width="2.2"/>
<line x1="643.9" y1="1609.5" x2="650.9" y2="1609.5" stroke="#222" stroke-width="2.2"/>
<line x1="643.9" y1="1631.2" x2="658.9" y2="1631.2" stroke="#222" stroke-width="2.2"/>
<line x1="643.9" y1="1653" x2="650.9" y2="1653" stroke="#222" stroke-width="2.2"/>
<line x1="643.9" y1="1675" x2="658.9" y2="1675" stroke="#222" stroke-width="2.2"/>
<line x1="643.9" y1="1696.7" x2="650.9" y2="1696.7" stroke="#222" stroke-width="2.2"/>
<line x1="643.9" y1="1718.4" x2="658.9" y2="1718.4" stroke="#222" stroke-width="2.2"/>
<line x1="643.9" y1="1740.2" x2="650.9" y2="1740.2" stroke="#222" stroke-width="2.2"/>
<line x1="788.2" y1="1759.0" x2="788.2" y2="1762.5" stroke="#111" stroke-width="4"/>
<line x1="932.6" y1="1755.5" x2="932.6" y2="1762.5" stroke="#111" stroke-width="4"/>
<line x1="1076.9" y1="1759.0" x2="1076.9" y2="1762.5" stroke="#111" stroke-width="4"/>
<line x1="1221.2" y1="1755.5" x2="1221.2" y2="1762.5" stroke="#111" stroke-width="4"/>
<line x1="1365.5" y1="1759.0" x2="1365.5" y2="1762.5" stroke="#111" stroke-width="4"/>
<line x1="1509.9" y1="1755.5" x2="1509.9" y2="1762.5" stroke="#111" stroke-width="4"/>
<line x1="1654.2" y1="1759.0" x2="1654.2" y2="1762.5" stroke="#111" stroke-width="4"/>
<line x1="1798.5" y1="1755.5" x2="1798.5" y2="1762.5" stroke="#111" stroke-width="4"/>
<line x1="1942.9" y1="1759.0" x2="1942.9" y2="1762.5" stroke="#111" stroke-width="4"/>
<text transform="translate(617.0,1518.7) scale(1.25,1)" text-anchor="middle" font-family="'Liberation Serif', 'Times New Roman', serif" font-size="40" fill="#111" stroke="#111" stroke-width="0.35">3</text>
<text transform="translate(615.0,1599.7) scale(1.25,1)" text-anchor="middle" font-family="'Liberation Serif', 'Times New Roman', serif" font-size="40" fill="#111" stroke="#111" stroke-width="0.35">2</text>
<text transform="translate(613.0,1686.2) scale(1.05,1)" text-anchor="middle" font-family="'Liberation Serif', 'Times New Roman', serif" font-size="40" fill="#111" stroke="#111" stroke-width="0.35">1</text>
<text transform="translate(615.0,1771.7) scale(1.25,1)" text-anchor="middle" font-family="'Liberation Serif', 'Times New Roman', serif" font-size="40" fill="#111" stroke="#111" stroke-width="0.35">0</text>
<circle cx="631.0" cy="1768.7" r="1.5" fill="#b05020"/>
<text transform="translate(639.4,1806.7) scale(1.303,1)" text-anchor="middle" font-family="'Liberation Serif', 'Times New Roman', serif" font-size="38.5" fill="#111" stroke="#111" stroke-width="0.35">0</text>
<text transform="translate(927.1,1806.7) scale(1.348,1)" text-anchor="middle" font-family="'Liberation Serif', 'Times New Roman', serif" font-size="38.5" fill="#111" stroke="#111" stroke-width="0.35">50</text>
<text transform="translate(1214.7,1806.7) scale(1.206,1)" text-anchor="middle" font-family="'Liberation Serif', 'Times New Roman', serif" font-size="38.5" fill="#111" stroke="#111" stroke-width="0.35">100</text>
<text transform="translate(1502.4,1806.7) scale(1.196,1)" text-anchor="middle" font-family="'Liberation Serif', 'Times New Roman', serif" font-size="38.5" fill="#111" stroke="#111" stroke-width="0.35">150</text>
<text transform="translate(1790.0,1806.7) scale(1.241,1)" text-anchor="middle" font-family="'Liberation Serif', 'Times New Roman', serif" font-size="38.5" fill="#111" stroke="#111" stroke-width="0.35">200</text>
<text transform="translate(2077.7,1806.7) scale(1.241,1)" text-anchor="middle" font-family="'Liberation Serif', 'Times New Roman', serif" font-size="38.5" fill="#111" stroke="#111" stroke-width="0.35">250</text>
<text x="576.5" y="1648" transform="rotate(-90 576.5 1648)" text-anchor="middle" font-family="'Liberation Serif', 'Times New Roman', serif" font-size="49" fill="#111">Height/μm</text>
<text x="22" y="1526.5" font-family="'Liberation Serif', 'Times New Roman', serif" font-size="66" fill="#000">(d<tspan font-size="43" dy="14">1</tspan><tspan dy="-14" dx="-1">)</tspan></text>
<text x="1399" y="1862" text-anchor="middle" font-family="'Liberation Serif', 'Times New Roman', serif" font-size="68" fill="#000">X/μm</text>
</svg>
<div style="position:absolute;left:0;top:0;width:311.0px;height:311.0px;transform-origin:0 0;transform:matrix3d(0.81032096,0.16710266,0,-0.00029332141,-0.54703615,0.4750088,0,-0.00067417751,0,0,1,0,246,38,0,1)"><svg width="311.0" height="311.0" style="display:block"><rect x="0" y="0" width="311.0" height="311.0" fill="url(#g3_a)" filter="url(#f3_a)"/></svg></div>
<div style="position:absolute;left:0;top:0;width:311.4px;height:312.0px;transform-origin:0 0;transform:matrix3d(0.64588823,0.15330615,0,-0.00028594395,-0.89361231,0.46225496,0,-0.0006932594,0,0,1,0,740.8,47,0,1)"><svg width="311.4" height="312.0" style="display:block"><rect x="0" y="0" width="311.4" height="312.0" fill="url(#g3_b)" filter="url(#f3_b)"/></svg></div>
<div style="position:absolute;left:0;top:0;width:312.0px;height:310.5px;transform-origin:0 0;transform:matrix3d(0.59459939,0.16609121,0,-0.00025617167,-1.2724329,0.4519616,0,-0.00070365707,0,0,1,0,1236,52.7,0,1)"><svg width="312.0" height="310.5" style="display:block"><rect x="0" y="0" width="312.0" height="310.5" fill="url(#g3_c)" filter="url(#f3_c)"/><rect x="0" y="79.5" width="312.0" height="6" fill="url(#dl)" /><rect x="0" y="152.5" width="312.0" height="6" fill="url(#dl)" /><rect x="0" y="227.5" width="312.0" height="6" fill="url(#dl)" /><rect x="0" y="298.5" width="312.0" height="6" fill="url(#dl)" /></svg></div>
<div style="position:absolute;left:0;top:0;width:322.0px;height:321.0px;transform-origin:0 0;transform:matrix3d(0.47529238,0.15939464,0,-0.00022728229,-1.5681777,0.45094663,0,-0.0006787878,0,0,1,0,1746,63.6,0,1)"><svg width="322.0" height="321.0" style="display:block"><rect x="0" y="0" width="322.0" height="321.0" fill="url(#g3_d)" filter="url(#f3_d)"/><rect x="0" y="58.5" width="322.0" height="6" fill="url(#dl)" /><rect x="0" y="134.5" width="322.0" height="6" fill="url(#dl)" /><rect x="0" y="207.5" width="322.0" height="6" fill="url(#dl)" /><rect x="0" y="288.5" width="322.0" height="6" fill="url(#dl)" /></svg></div>
<svg class="main" width="2187" height="1892" viewBox="0 0 2187 1892" xmlns="http://www.w3.org/2000/svg" style="pointer-events:none">
<polygon points="247.5,38.0 245.8,40.2 244.3,38.4 246.0,36.2" fill="rgb(18, 135, 148)" stroke="rgb(18, 135, 148)" stroke-width="0.8"/>
<polygon points="245.8,40.2 244.2,42.4 242.7,40.6 244.3,38.4" fill="rgb(18, 135, 148)" stroke="rgb(18, 135, 148)" stroke-width="0.8"/>
<polygon points="244.2,42.4 242.5,44.6 241.0,42.7 242.7,40.6" fill="rgb(18, 135, 148)" stroke="rgb(18, 135, 148)" stroke-width="0.8"/>
<polygon points="242.5,44.6 240.8,46.8 239.3,44.2 241.0,42.7" fill="rgb(18, 137, 133)" stroke="rgb(18, 137, 133)" stroke-width="0.8"/>
<polygon points="240.8,46.8 239.2,48.9 237.7,45.1 239.3,44.2" fill="rgb(16, 142, 79)" stroke="rgb(16, 142, 79)" stroke-width="0.8"/>
<polygon points="239.2,48.9 237.5,51.1 236.0,47.2 237.7,45.1" fill="rgb(13, 139, 26)" stroke="rgb(13, 139, 26)" stroke-width="0.8"/>
<polygon points="237.5,51.1 235.8,53.3 234.3,48.9 236.0,47.2" fill="rgb(14, 141, 26)" stroke="rgb(14, 141, 26)" stroke-width="0.8"/>
<polygon points="235.8,53.3 234.2,55.5 232.7,51.0 234.3,48.9" fill="rgb(15, 142, 25)" stroke="rgb(15, 142, 25)" stroke-width="0.8"/>
<polygon points="234.2,55.5 232.5,57.7 231.0,53.2 232.7,51.0" fill="rgb(15, 142, 25)" stroke="rgb(15, 142, 25)" stroke-width="0.8"/>
<polygon points="232.5,57.7 230.8,59.9 229.3,55.4 231.0,53.2" fill="rgb(15, 142, 25)" stroke="rgb(15, 142, 25)" stroke-width="0.8"/>
<polygon points="230.8,59.9 229.2,62.1 227.7,57.6 229.3,55.4" fill="rgb(15, 142, 25)" stroke="rgb(15, 142, 25)" stroke-width="0.8"/>
<polygon points="229.2,62.1 227.5,64.3 226.0,59.7 227.7,57.6" fill="rgb(15, 142, 25)" stroke="rgb(15, 142, 25)" stroke-width="0.8"/>
<polygon points="227.5,64.3 225.8,66.5 224.3,61.9 226.0,59.7" fill="rgb(15, 142, 25)" stroke="rgb(15, 142, 25)" stroke-width="0.8"/>
<polygon points="225.8,66.5 224.2,68.6 222.7,64.1 224.3,61.9" fill="rgb(15, 142, 25)" stroke="rgb(15, 142, 25)" stroke-width="0.8"/>
<polygon points="224.2,68.6 222.5,70.8 221.0,66.9 222.7,64.1" fill="rgb(14, 141, 26)" stroke="rgb(14, 141, 26)" stroke-width="0.8"/>
<polygon points="222.5,70.8 220.8,73.0 219.3,69.7 221.0,66.9" fill="rgb(15, 141, 52)" stroke="rgb(15, 141, 52)" stroke-width="0.8"/>
<polygon points="220.8,73.0 219.2,75.2 217.7,73.5 219.3,69.7" fill="rgb(18, 140, 123)" stroke="rgb(18, 140, 123)" stroke-width="0.8"/>
<polygon points="219.2,75.2 217.5,77.4 216.0,76.3 217.7,73.5" fill="rgb(18, 127, 156)" stroke="rgb(18, 127, 156)" stroke-width="0.8"/>
<polygon points="217.5,77.4 215.8,79.6 214.3,78.5 216.0,76.3" fill="rgb(18, 123, 161)" stroke="rgb(18, 123, 161)" stroke-width="0.8"/>
<polygon points="215.8,79.6 214.2,81.8 212.7,80.7 214.3,78.5" fill="rgb(18, 123, 161)" stroke="rgb(18, 123, 161)" stroke-width="0.8"/>
<polygon points="214.2,81.8 212.5,84.0 211.0,82.8 212.7,80.7" fill="rgb(18, 123, 161)" stroke="rgb(18, 123, 161)" stroke-width="0.8"/>
<polygon points="212.5,84.0 210.8,86.2 209.3,85.0 211.0,82.8" fill="rgb(18, 123, 161)" stroke="rgb(18, 123, 161)" stroke-width="0.8"/>
<polygon points="210.8,86.2 209.2,88.3 207.7,87.2 209.3,85.0" fill="rgb(18, 123, 161)" stroke="rgb(18, 123, 161)" stroke-width="0.8"/>
<polygon points="209.2,88.3 207.5,90.5 206.0,89.4 207.7,87.2" fill="rgb(18, 123, 161)" stroke="rgb(18, 123, 161)" stroke-width="0.8"/>
<polygon points="207.5,90.5 205.8,92.7 204.3,90.8 206.0,89.4" fill="rgb(18, 129, 154)" stroke="rgb(18, 129, 154)" stroke-width="0.8"/>
<polygon points="205.8,92.7 204.2,94.9 202.7,90.9 204.3,90.8" fill="rgb(18, 142, 108)" stroke="rgb(18, 142, 108)" stroke-width="0.8"/>
<polygon points="204.2,94.9 202.5,97.1 201.0,92.3 202.7,90.9" fill="rgb(14, 140, 26)" stroke="rgb(14, 140, 26)" stroke-width="0.8"/>
<polygon points="202.5,97.1 200.8,99.3 199.3,93.5 201.0,92.3" fill="rgb(16, 145, 24)" stroke="rgb(16, 145, 24)" stroke-width="0.8"/>
<polygon points="200.8,99.3 199.2,101.5 197.7,95.7 199.3,93.5" fill="rgb(18, 147, 23)" stroke="rgb(18, 147, 23)" stroke-width="0.8"/>
<polygon points="199.2,101.5 197.5,103.7 196.0,97.8 197.7,95.7" fill="rgb(18, 147, 23)" stroke="rgb(18, 147, 23)" stroke-width="0.8"/>
<polygon points="197.5,103.7 195.8,105.9 194.3,100.0 196.0,97.8" fill="rgb(18, 147, 23)" stroke="rgb(18, 147, 23)" stroke-width="0.8"/>
<polygon points="195.8,105.9 194.2,108.0 192.7,102.2 194.3,100.0" fill="rgb(18, 147, 23)" stroke="rgb(18, 147, 23)" stroke-width="0.8"/>
<polygon points="194.2,108.0 192.5,110.2 191.0,104.3 192.7,102.2" fill="rgb(18, 147, 23)" stroke="rgb(18, 147, 23)" stroke-width="0.8"/>
<polygon points="192.5,110.2 190.8,112.4 189.3,106.5 191.0,104.3" fill="rgb(18, 147, 23)" stroke="rgb(18, 147, 23)" stroke-width="0.8"/>
<polygon points="190.8,112.4 189.2,114.6 187.7,108.7 189.3,106.5" fill="rgb(18, 147, 23)" stroke="rgb(18, 147, 23)" stroke-width="0.8"/>
<polygon points="189.2,114.6 187.5,116.8 186.0,110.9 187.7,108.7" fill="rgb(18, 147, 23)" stroke="rgb(18, 147, 23)" stroke-width="0.8"/>
<polygon points="187.5,116.8 185.8,119.0 184.3,114.1 186.0,110.9" fill="rgb(16, 145, 24)" stroke="rgb(16, 145, 24)" stroke-width="0.8"/>
<polygon points="185.8,119.0 184.2,121.2 182.7,116.9 184.3,114.1" fill="rgb(14, 141, 26)" stroke="rgb(14, 141, 26)" stroke-width="0.8"/>
<polygon points="184.2,121.2 182.5,123.4 181.0,121.1 182.7,116.9" fill="rgb(17, 143, 102)" stroke="rgb(17, 143, 102)" stroke-width="0.8"/>
<polygon points="182.5,123.4 180.8,125.6 179.3,124.0 181.0,121.1" fill="rgb(18, 132, 150)" stroke="rgb(18, 132, 150)" stroke-width="0.8"/>
<polygon points="180.8,125.6 179.2,127.7 177.7,126.2 179.3,124.0" fill="rgb(18, 128, 156)" stroke="rgb(18, 128, 156)" stroke-width="0.8"/>
<polygon points="179.2,127.7 177.5,129.9 176.0,128.4 177.7,126.2" fill="rgb(18, 128, 156)" stroke="rgb(18, 128, 156)" stroke-width="0.8"/>
<polygon points="177.5,129.9 175.8,132.1 174.3,130.6 176.0,128.4" fill="rgb(18, 128, 156)" stroke="rgb(18, 128, 156)" stroke-width="0.8"/>
<polygon points="175.8,132.1 174.2,134.3 172.7,132.7 174.3,130.6" fill="rgb(18, 128, 156)" stroke="rgb(18, 128, 156)" stroke-width="0.8"/>
<polygon points="174.2,134.3 172.5,136.5 171.0,134.9 172.7,132.7" fill="rgb(18, 128, 155)" stroke="rgb(18, 128, 155)" stroke-width="0.8"/>
<polygon points="172.5,136.5 170.8,138.7 169.3,136.4 171.0,134.9" fill="rgb(18, 133, 150)" stroke="rgb(18, 133, 150)" stroke-width="0.8"/>
<polygon points="170.8,138.7 169.2,140.9 167.7,137.7 169.3,136.4" fill="rgb(18, 139, 125)" stroke="rgb(18, 139, 125)" stroke-width="0.8"/>
<polygon points="169.2,140.9 167.5,143.1 166.0,139.1 167.7,137.7" fill="rgb(17, 143, 87)" stroke="rgb(17, 143, 87)" stroke-width="0.8"/>
<polygon points="167.5,143.1 165.8,145.3 164.3,141.2 166.0,139.1" fill="rgb(15, 141, 55)" stroke="rgb(15, 141, 55)" stroke-width="0.8"/>
<polygon points="165.8,145.3 164.2,147.4 162.7,143.4 164.3,141.2" fill="rgb(14, 141, 52)" stroke="rgb(14, 141, 52)" stroke-width="0.8"/>
<polygon points="164.2,147.4 162.5,149.6 161.0,145.5 162.7,143.4" fill="rgb(14, 141, 52)" stroke="rgb(14, 141, 52)" stroke-width="0.8"/>
<polygon points="162.5,149.6 160.8,151.8 159.3,147.7 161.0,145.5" fill="rgb(14, 141, 52)" stroke="rgb(14, 141, 52)" stroke-width="0.8"/>
<polygon points="160.8,151.8 159.2,154.0 157.7,149.9 159.3,147.7" fill="rgb(14, 141, 52)" stroke="rgb(14, 141, 52)" stroke-width="0.8"/>
<polygon points="159.2,154.0 157.5,156.2 156.0,152.1 157.7,149.9" fill="rgb(14, 141, 52)" stroke="rgb(14, 141, 52)" stroke-width="0.8"/>
<polygon points="157.5,156.2 155.8,158.4 154.3,154.2 156.0,152.1" fill="rgb(14, 141, 52)" stroke="rgb(14, 141, 52)" stroke-width="0.8"/>
<polygon points="155.8,158.4 154.2,160.6 152.7,156.6 154.3,154.2" fill="rgb(15, 141, 59)" stroke="rgb(15, 141, 59)" stroke-width="0.8"/>
<polygon points="154.2,160.6 152.5,162.8 151.0,159.8 152.7,156.6" fill="rgb(17, 143, 102)" stroke="rgb(17, 143, 102)" stroke-width="0.8"/>
<polygon points="152.5,162.8 150.8,165.0 149.3,163.1 151.0,159.8" fill="rgb(18, 136, 140)" stroke="rgb(18, 136, 140)" stroke-width="0.8"/>
<polygon points="150.8,165.0 149.2,167.1 147.7,166.0 149.3,163.1" fill="rgb(18, 126, 158)" stroke="rgb(18, 126, 158)" stroke-width="0.8"/>
<polygon points="149.2,167.1 147.5,169.3 146.0,168.2 147.7,166.0" fill="rgb(18, 121, 163)" stroke="rgb(18, 121, 163)" stroke-width="0.8"/>
<polygon points="147.5,169.3 145.8,171.5 144.3,170.4 146.0,168.2" fill="rgb(18, 121, 163)" stroke="rgb(18, 121, 163)" stroke-width="0.8"/>
<polygon points="145.8,171.5 144.2,173.7 142.7,172.6 144.3,170.4" fill="rgb(18, 121, 163)" stroke="rgb(18, 121, 163)" stroke-width="0.8"/>
<polygon points="144.2,173.7 142.5,175.9 141.0,174.8 142.7,172.6" fill="rgb(18, 121, 163)" stroke="rgb(18, 121, 163)" stroke-width="0.8"/>
<polygon points="142.5,175.9 140.8,178.1 139.3,177.0 141.0,174.8" fill="rgb(18, 121, 163)" stroke="rgb(18, 121, 163)" stroke-width="0.8"/>
<polygon points="140.8,178.1 139.2,180.3 137.7,179.2 139.3,177.0" fill="rgb(18, 121, 163)" stroke="rgb(18, 121, 163)" stroke-width="0.8"/>
<polygon points="139.2,180.3 137.5,182.5 136.0,181.3 137.7,179.2" fill="rgb(18, 121, 163)" stroke="rgb(18, 121, 163)" stroke-width="0.8"/>
<polygon points="137.5,182.5 135.8,184.7 134.3,182.2 136.0,181.3" fill="rgb(18, 129, 154)" stroke="rgb(18, 129, 154)" stroke-width="0.8"/>
<polygon points="135.8,184.7 134.2,186.8 132.7,182.5 134.3,182.2" fill="rgb(18, 143, 107)" stroke="rgb(18, 143, 107)" stroke-width="0.8"/>
<polygon points="134.2,186.8 132.5,189.0 131.0,184.3 132.7,182.5" fill="rgb(14, 140, 36)" stroke="rgb(14, 140, 36)" stroke-width="0.8"/>
<polygon points="132.5,189.0 130.8,191.2 129.3,186.1 131.0,184.3" fill="rgb(13, 140, 26)" stroke="rgb(13, 140, 26)" stroke-width="0.8"/>
<polygon points="130.8,191.2 129.2,193.4 127.7,188.3 129.3,186.1" fill="rgb(14, 141, 26)" stroke="rgb(14, 141, 26)" stroke-width="0.8"/>
<polygon points="129.2,193.4 127.5,195.6 126.0,190.5 127.7,188.3" fill="rgb(14, 141, 26)" stroke="rgb(14, 141, 26)" stroke-width="0.8"/>
<polygon points="127.5,195.6 125.8,197.8 124.3,192.6 126.0,190.5" fill="rgb(14, 141, 26)" stroke="rgb(14, 141, 26)" stroke-width="0.8"/>
<polygon points="125.8,197.8 124.2,200.0 122.7,194.8 124.3,192.6" fill="rgb(14, 141, 26)" stroke="rgb(14, 141, 26)" stroke-width="0.8"/>
<polygon points="124.2,200.0 122.5,202.2 121.0,197.0 122.7,194.8" fill="rgb(14, 141, 26)" stroke="rgb(14, 141, 26)" stroke-width="0.8"/>
<polygon points="122.5,202.2 120.8,204.4 119.3,199.2 121.0,197.0" fill="rgb(14, 141, 26)" stroke="rgb(14, 141, 26)" stroke-width="0.8"/>
<polygon points="120.8,204.4 119.2,206.5 117.7,201.3 119.3,199.2" fill="rgb(14, 141, 26)" stroke="rgb(14, 141, 26)" stroke-width="0.8"/>
<polygon points="119.2,206.5 117.5,208.7 116.0,203.9 117.7,201.3" fill="rgb(13, 140, 26)" stroke="rgb(13, 140, 26)" stroke-width="0.8"/>
<polygon points="117.5,208.7 115.8,210.9 114.3,206.8 116.0,203.9" fill="rgb(15, 141, 53)" stroke="rgb(15, 141, 53)" stroke-width="0.8"/>
<polygon points="115.8,210.9 114.2,213.1 112.7,211.4 114.3,206.8" fill="rgb(18, 138, 129)" stroke="rgb(18, 138, 129)" stroke-width="0.8"/>
<polygon points="114.2,213.1 112.5,215.3 111.0,215.3 112.7,211.4" fill="rgb(18, 116, 167)" stroke="rgb(18, 116, 167)" stroke-width="0.8"/>
<polygon points="742.3,47.0 740.6,49.2 739.1,42.4 740.8,40.3" fill="rgb(18, 147, 23)" stroke="rgb(18, 147, 23)" stroke-width="0.8"/>
<polygon points="740.6,49.2 738.9,51.4 737.4,44.6 739.1,42.4" fill="rgb(18, 147, 23)" stroke="rgb(18, 147, 23)" stroke-width="0.8"/>
<polygon points="738.9,51.4 737.3,53.6 735.8,46.7 737.4,44.6" fill="rgb(18, 147, 23)" stroke="rgb(18, 147, 23)" stroke-width="0.8"/>
<polygon points="737.3,53.6 735.6,55.8 734.1,48.9 735.8,46.7" fill="rgb(18, 147, 23)" stroke="rgb(18, 147, 23)" stroke-width="0.8"/>
<polygon points="735.6,55.8 733.9,57.9 732.4,52.6 734.1,48.9" fill="rgb(16, 144, 24)" stroke="rgb(16, 144, 24)" stroke-width="0.8"/>
<polygon points="733.9,57.9 732.2,60.1 730.7,55.7 732.4,52.6" fill="rgb(13, 139, 26)" stroke="rgb(13, 139, 26)" stroke-width="0.8"/>
<polygon points="732.2,60.1 730.5,62.3 729.0,60.1 730.7,55.7" fill="rgb(18, 142, 110)" stroke="rgb(18, 142, 110)" stroke-width="0.8"/>
<polygon points="730.5,62.3 728.9,64.5 727.4,62.8 729.0,60.1" fill="rgb(18, 133, 150)" stroke="rgb(18, 133, 150)" stroke-width="0.8"/>
<polygon points="728.9,64.5 727.2,66.7 725.7,65.0 727.4,62.8" fill="rgb(18, 130, 153)" stroke="rgb(18, 130, 153)" stroke-width="0.8"/>
<polygon points="727.2,66.7 725.5,68.9 724.0,67.2 725.7,65.0" fill="rgb(18, 130, 153)" stroke="rgb(18, 130, 153)" stroke-width="0.8"/>
<polygon points="725.5,68.9 723.8,71.1 722.3,69.4 724.0,67.2" fill="rgb(18, 130, 153)" stroke="rgb(18, 130, 153)" stroke-width="0.8"/>
<polygon points="723.8,71.1 722.1,73.3 720.6,71.6 722.3,69.4" fill="rgb(18, 130, 153)" stroke="rgb(18, 130, 153)" stroke-width="0.8"/>
<polygon points="722.1,73.3 720.4,75.5 718.9,73.7 720.6,71.6" fill="rgb(18, 130, 153)" stroke="rgb(18, 130, 153)" stroke-width="0.8"/>
<polygon points="720.4,75.5 718.8,77.6 717.3,75.9 718.9,73.7" fill="rgb(18, 130, 153)" stroke="rgb(18, 130, 153)" stroke-width="0.8"/>
<polygon points="718.8,77.6 717.1,79.8 715.6,78.1 717.3,75.9" fill="rgb(18, 130, 153)" stroke="rgb(18, 130, 153)" stroke-width="0.8"/>
<polygon points="717.1,79.8 715.4,82.0 713.9,78.7 715.6,78.1" fill="rgb(18, 137, 137)" stroke="rgb(18, 137, 137)" stroke-width="0.8"/>
<polygon points="715.4,82.0 713.7,84.2 712.2,79.6 713.9,78.7" fill="rgb(17, 143, 89)" stroke="rgb(17, 143, 89)" stroke-width="0.8"/>
<polygon points="713.7,84.2 712.0,86.4 710.5,80.2 712.2,79.6" fill="rgb(14, 140, 26)" stroke="rgb(14, 140, 26)" stroke-width="0.8"/>
<polygon points="712.0,86.4 710.4,88.6 708.9,82.0 710.5,80.2" fill="rgb(16, 144, 25)" stroke="rgb(16, 144, 25)" stroke-width="0.8"/>
<polygon points="710.4,88.6 708.7,90.8 707.2,84.2 708.9,82.0" fill="rgb(16, 145, 24)" stroke="rgb(16, 145, 24)" stroke-width="0.8"/>
<polygon points="708.7,90.8 707.0,93.0 705.5,86.4 707.2,84.2" fill="rgb(16, 145, 24)" stroke="rgb(16, 145, 24)" stroke-width="0.8"/>
<polygon points="707.0,93.0 705.3,95.2 703.8,88.5 705.5,86.4" fill="rgb(16, 145, 24)" stroke="rgb(16, 145, 24)" stroke-width="0.8"/>
<polygon points="705.3,95.2 703.6,97.3 702.1,90.7 703.8,88.5" fill="rgb(16, 145, 24)" stroke="rgb(16, 145, 24)" stroke-width="0.8"/>
<polygon points="703.6,97.3 702.0,99.5 700.5,92.9 702.1,90.7" fill="rgb(16, 145, 24)" stroke="rgb(16, 145, 24)" stroke-width="0.8"/>
<polygon points="702.0,99.5 700.3,101.7 698.8,95.0 700.5,92.9" fill="rgb(16, 145, 24)" stroke="rgb(16, 145, 24)" stroke-width="0.8"/>
<polygon points="700.3,101.7 698.6,103.9 697.1,98.8 698.8,95.0" fill="rgb(15, 142, 25)" stroke="rgb(15, 142, 25)" stroke-width="0.8"/>
<polygon points="698.6,103.9 696.9,106.1 695.4,101.9 697.1,98.8" fill="rgb(15, 141, 55)" stroke="rgb(15, 141, 55)" stroke-width="0.8"/>
<polygon points="696.9,106.1 695.2,108.3 693.7,106.7 695.4,101.9" fill="rgb(18, 138, 130)" stroke="rgb(18, 138, 130)" stroke-width="0.8"/>
<polygon points="695.2,108.3 693.5,110.5 692.0,109.6 693.7,106.7" fill="rgb(18, 124, 159)" stroke="rgb(18, 124, 159)" stroke-width="0.8"/>
<polygon points="693.5,110.5 691.9,112.7 690.4,111.8 692.0,109.6" fill="rgb(18, 121, 163)" stroke="rgb(18, 121, 163)" stroke-width="0.8"/>
<polygon points="691.9,112.7 690.2,114.9 688.7,113.9 690.4,111.8" fill="rgb(18, 121, 163)" stroke="rgb(18, 121, 163)" stroke-width="0.8"/>
<polygon points="690.2,114.9 688.5,117.0 687.0,116.1 688.7,113.9" fill="rgb(18, 121, 163)" stroke="rgb(18, 121, 163)" stroke-width="0.8"/>
<polygon points="688.5,117.0 686.8,119.2 685.3,118.3 687.0,116.1" fill="rgb(18, 121, 163)" stroke="rgb(18, 121, 163)" stroke-width="0.8"/>
<polygon points="686.8,119.2 685.1,121.4 683.6,120.5 685.3,118.3" fill="rgb(18, 121, 163)" stroke="rgb(18, 121, 163)" stroke-width="0.8"/>
<polygon points="685.1,121.4 683.5,123.6 682.0,122.7 683.6,120.5" fill="rgb(18, 121, 163)" stroke="rgb(18, 121, 163)" stroke-width="0.8"/>
<polygon points="683.5,123.6 681.8,125.8 680.3,124.9 682.0,122.7" fill="rgb(18, 121, 163)" stroke="rgb(18, 121, 163)" stroke-width="0.8"/>
<polygon points="681.8,125.8 680.1,128.0 678.6,125.2 680.3,124.9" fill="rgb(18, 130, 153)" stroke="rgb(18, 130, 153)" stroke-width="0.8"/>
<polygon points="680.1,128.0 678.4,130.2 676.9,124.5 678.6,125.2" fill="rgb(17, 143, 86)" stroke="rgb(17, 143, 86)" stroke-width="0.8"/>
<polygon points="678.4,130.2 676.7,132.4 675.2,125.4 676.9,124.5" fill="rgb(15, 142, 25)" stroke="rgb(15, 142, 25)" stroke-width="0.8"/>
<polygon points="676.7,132.4 675.1,134.6 673.6,126.8 675.2,125.4" fill="rgb(17, 146, 24)" stroke="rgb(17, 146, 24)" stroke-width="0.8"/>
<polygon points="675.1,134.6 673.4,136.7 671.9,129.0 673.6,126.8" fill="rgb(18, 147, 23)" stroke="rgb(18, 147, 23)" stroke-width="0.8"/>
<polygon points="673.4,136.7 671.7,138.9 670.2,131.1 671.9,129.0" fill="rgb(18, 147, 23)" stroke="rgb(18, 147, 23)" stroke-width="0.8"/>
<polygon points="671.7,138.9 670.0,141.1 668.5,133.3 670.2,131.1" fill="rgb(18, 147, 23)" stroke="rgb(18, 147, 23)" stroke-width="0.8"/>
<polygon points="670.0,141.1 668.3,143.3 666.8,135.5 668.5,133.3" fill="rgb(18, 147, 23)" stroke="rgb(18, 147, 23)" stroke-width="0.8"/>
<polygon points="668.3,143.3 666.6,145.5 665.1,137.6 666.8,135.5" fill="rgb(18, 147, 23)" stroke="rgb(18, 147, 23)" stroke-width="0.8"/>
<polygon points="666.6,145.5 665.0,147.7 663.5,139.8 665.1,137.6" fill="rgb(18, 147, 23)" stroke="rgb(18, 147, 23)" stroke-width="0.8"/>
<polygon points="665.0,147.7 663.3,149.9 661.8,143.6 663.5,139.8" fill="rgb(16, 144, 24)" stroke="rgb(16, 144, 24)" stroke-width="0.8"/>
<polygon points="663.3,149.9 661.6,152.1 660.1,147.1 661.8,143.6" fill="rgb(13, 139, 26)" stroke="rgb(13, 139, 26)" stroke-width="0.8"/>
<polygon points="661.6,152.1 659.9,154.3 658.4,152.3 660.1,147.1" fill="rgb(18, 140, 120)" stroke="rgb(18, 140, 120)" stroke-width="0.8"/>
<polygon points="659.9,154.3 658.2,156.4 656.7,155.5 658.4,152.3" fill="rgb(18, 125, 158)" stroke="rgb(18, 125, 158)" stroke-width="0.8"/>
<polygon points="658.2,156.4 656.6,158.6 655.1,157.7 656.7,155.5" fill="rgb(18, 121, 163)" stroke="rgb(18, 121, 163)" stroke-width="0.8"/>
<polygon points="656.6,158.6 654.9,160.8 653.4,159.8 655.1,157.7" fill="rgb(18, 121, 163)" stroke="rgb(18, 121, 163)" stroke-width="0.8"/>
<polygon points="654.9,160.8 653.2,163.0 651.7,162.0 653.4,159.8" fill="rgb(18, 121, 163)" stroke="rgb(18, 121, 163)" stroke-width="0.8"/>
<polygon points="653.2,163.0 651.5,165.2 650.0,164.2 651.7,162.0" fill="rgb(18, 121, 163)" stroke="rgb(18, 121, 163)" stroke-width="0.8"/>
<polygon points="651.5,165.2 649.8,167.4 648.3,166.4 650.0,164.2" fill="rgb(18, 121, 163)" stroke="rgb(18, 121, 163)" stroke-width="0.8"/>
<polygon points="649.8,167.4 648.2,169.6 646.7,168.6 648.3,166.4" fill="rgb(18, 121, 163)" stroke="rgb(18, 121, 163)" stroke-width="0.8"/>
<polygon points="648.2,169.6 646.5,171.8 645.0,169.9 646.7,168.6" fill="rgb(18, 125, 159)" stroke="rgb(18, 125, 159)" stroke-width="0.8"/>
<polygon points="646.5,171.8 644.8,174.0 643.3,169.2 645.0,169.9" fill="rgb(18, 139, 126)" stroke="rgb(18, 139, 126)" stroke-width="0.8"/>
<polygon points="644.8,174.0 643.1,176.1 641.6,170.3 643.3,169.2" fill="rgb(14, 140, 48)" stroke="rgb(14, 140, 48)" stroke-width="0.8"/>
<polygon points="643.1,176.1 641.4,178.3 639.9,170.8 641.6,170.3" fill="rgb(15, 142, 25)" stroke="rgb(15, 142, 25)" stroke-width="0.8"/>
<polygon points="641.4,178.3 639.8,180.5 638.3,173.0 639.9,170.8" fill="rgb(16, 145, 24)" stroke="rgb(16, 145, 24)" stroke-width="0.8"/>
<polygon points="639.8,180.5 638.1,182.7 636.6,175.2 638.3,173.0" fill="rgb(16, 145, 24)" stroke="rgb(16, 145, 24)" stroke-width="0.8"/>
<polygon points="638.1,182.7 636.4,184.9 634.9,177.3 636.6,175.2" fill="rgb(16, 145, 24)" stroke="rgb(16, 145, 24)" stroke-width="0.8"/>
<polygon points="636.4,184.9 634.7,187.1 633.2,179.5 634.9,177.3" fill="rgb(16, 145, 24)" stroke="rgb(16, 145, 24)" stroke-width="0.8"/>
<polygon points="634.7,187.1 633.0,189.3 631.5,181.7 633.2,179.5" fill="rgb(16, 145, 24)" stroke="rgb(16, 145, 24)" stroke-width="0.8"/>
<polygon points="633.0,189.3 631.3,191.5 629.8,183.8 631.5,181.7" fill="rgb(16, 145, 24)" stroke="rgb(16, 145, 24)" stroke-width="0.8"/>
<polygon points="631.3,191.5 629.7,193.7 628.2,186.0 629.8,183.8" fill="rgb(16, 145, 24)" stroke="rgb(16, 145, 24)" stroke-width="0.8"/>
<polygon points="629.7,193.7 628.0,195.8 626.5,189.2 628.2,186.0" fill="rgb(15, 143, 25)" stroke="rgb(15, 143, 25)" stroke-width="0.8"/>
<polygon points="628.0,195.8 626.3,198.0 624.8,193.5 626.5,189.2" fill="rgb(14, 140, 40)" stroke="rgb(14, 140, 40)" stroke-width="0.8"/>
<polygon points="626.3,198.0 624.6,200.2 623.1,199.0 624.8,193.5" fill="rgb(18, 136, 139)" stroke="rgb(18, 136, 139)" stroke-width="0.8"/>
<polygon points="624.6,200.2 622.9,202.4 621.4,202.4 623.1,199.0" fill="rgb(18, 116, 167)" stroke="rgb(18, 116, 167)" stroke-width="0.8"/>
<polygon points="611.2,217.7 609.5,219.9 608.0,218.7 609.7,217.7" fill="rgb(18, 115, 167)" stroke="rgb(18, 115, 167)" stroke-width="0.8"/>
<polygon points="609.5,219.9 607.8,222.1 606.3,218.7 608.0,218.7" fill="rgb(18, 131, 151)" stroke="rgb(18, 131, 151)" stroke-width="0.8"/>
<polygon points="607.8,222.1 606.1,224.3 604.6,218.7 606.3,218.7" fill="rgb(18, 143, 103)" stroke="rgb(18, 143, 103)" stroke-width="0.8"/>
<polygon points="606.1,224.3 604.4,226.5 602.9,220.1 604.6,218.7" fill="rgb(13, 139, 32)" stroke="rgb(13, 139, 32)" stroke-width="0.8"/>
<polygon points="604.4,226.5 602.8,228.7 601.3,222.3 602.9,220.1" fill="rgb(13, 140, 26)" stroke="rgb(13, 140, 26)" stroke-width="0.8"/>
<polygon points="602.8,228.7 601.1,230.9 599.6,224.4 601.3,222.3" fill="rgb(13, 140, 26)" stroke="rgb(13, 140, 26)" stroke-width="0.8"/>
<polygon points="601.1,230.9 599.4,233.1 597.9,226.6 599.6,224.4" fill="rgb(13, 140, 26)" stroke="rgb(13, 140, 26)" stroke-width="0.8"/>
<polygon points="599.4,233.1 597.7,235.2 596.2,228.8 597.9,226.6" fill="rgb(13, 140, 26)" stroke="rgb(13, 140, 26)" stroke-width="0.8"/>
<polygon points="597.7,235.2 596.0,237.4 594.5,230.9 596.2,228.8" fill="rgb(13, 140, 26)" stroke="rgb(13, 140, 26)" stroke-width="0.8"/>
<polygon points="596.0,237.4 594.4,239.6 592.9,233.1 594.5,230.9" fill="rgb(13, 140, 26)" stroke="rgb(13, 140, 26)" stroke-width="0.8"/>
<polygon points="594.4,239.6 592.7,241.8 591.2,235.3 592.9,233.1" fill="rgb(13, 140, 26)" stroke="rgb(13, 140, 26)" stroke-width="0.8"/>
<polygon points="592.7,241.8 591.0,244.0 589.5,237.5 591.2,235.3" fill="rgb(13, 140, 26)" stroke="rgb(13, 140, 26)" stroke-width="0.8"/>
<polygon points="1237.5,52.7 1235.7,54.9 1234.2,51.3 1236.0,49.2" fill="rgb(16, 145, 24)" stroke="rgb(16, 145, 24)" stroke-width="0.8"/>
<polygon points="1235.7,54.9 1233.9,57.0 1232.4,52.9 1234.2,51.3" fill="rgb(17, 146, 24)" stroke="rgb(17, 146, 24)" stroke-width="0.8"/>
<polygon points="1233.9,57.0 1232.2,59.2 1230.7,53.9 1232.4,52.9" fill="rgb(18, 148, 23)" stroke="rgb(18, 148, 23)" stroke-width="0.8"/>
<polygon points="1232.2,59.2 1230.4,61.3 1228.9,54.9 1230.7,53.9" fill="rgb(32, 153, 21)" stroke="rgb(32, 153, 21)" stroke-width="0.8"/>
<polygon points="1230.4,61.3 1228.6,63.5 1227.1,56.6 1228.9,54.9" fill="rgb(57, 156, 20)" stroke="rgb(57, 156, 20)" stroke-width="0.8"/>
<polygon points="1228.6,63.5 1226.8,65.7 1225.3,58.8 1227.1,56.6" fill="rgb(63, 157, 19)" stroke="rgb(63, 157, 19)" stroke-width="0.8"/>
<polygon points="1226.8,65.7 1225.1,67.8 1223.6,60.9 1225.3,58.8" fill="rgb(63, 157, 19)" stroke="rgb(63, 157, 19)" stroke-width="0.8"/>
<polygon points="1225.1,67.8 1223.3,70.0 1221.8,63.0 1223.6,60.9" fill="rgb(63, 157, 19)" stroke="rgb(63, 157, 19)" stroke-width="0.8"/>
<polygon points="1223.3,70.0 1221.5,72.1 1220.0,65.9 1221.8,63.0" fill="rgb(52, 156, 20)" stroke="rgb(52, 156, 20)" stroke-width="0.8"/>
<polygon points="1221.5,72.1 1219.7,74.3 1218.2,69.1 1220.0,65.9" fill="rgb(23, 151, 22)" stroke="rgb(23, 151, 22)" stroke-width="0.8"/>
<polygon points="1219.7,74.3 1217.9,76.4 1216.4,72.4 1218.2,69.1" fill="rgb(18, 148, 23)" stroke="rgb(18, 148, 23)" stroke-width="0.8"/>
<polygon points="1217.9,76.4 1216.2,78.6 1214.7,75.3 1216.4,72.4" fill="rgb(16, 145, 24)" stroke="rgb(16, 145, 24)" stroke-width="0.8"/>
<polygon points="1216.2,78.6 1214.4,80.8 1212.9,79.2 1214.7,75.3" fill="rgb(14, 141, 26)" stroke="rgb(14, 141, 26)" stroke-width="0.8"/>
<polygon points="1214.4,80.8 1212.6,82.9 1211.1,81.2 1212.9,79.2" fill="rgb(13, 139, 28)" stroke="rgb(13, 139, 28)" stroke-width="0.8"/>
<polygon points="1212.6,82.9 1210.8,85.1 1209.3,84.8 1211.1,81.2" fill="rgb(15, 141, 58)" stroke="rgb(15, 141, 58)" stroke-width="0.8"/>
<polygon points="1198.4,100.2 1196.6,102.4 1195.1,100.8 1196.9,99.9" fill="rgb(15, 141, 62)" stroke="rgb(15, 141, 62)" stroke-width="0.8"/>
<polygon points="1196.6,102.4 1194.8,104.5 1193.3,101.6 1195.1,100.8" fill="rgb(14, 140, 26)" stroke="rgb(14, 140, 26)" stroke-width="0.8"/>
<polygon points="1194.8,104.5 1193.1,106.7 1191.6,100.9 1193.3,101.6" fill="rgb(17, 146, 24)" stroke="rgb(17, 146, 24)" stroke-width="0.8"/>
<polygon points="1193.1,106.7 1191.3,108.8 1189.8,101.7 1191.6,100.9" fill="rgb(36, 153, 21)" stroke="rgb(36, 153, 21)" stroke-width="0.8"/>
<polygon points="1191.3,108.8 1189.5,111.0 1188.0,103.8 1189.8,101.7" fill="rgb(56, 156, 20)" stroke="rgb(56, 156, 20)" stroke-width="0.8"/>
<polygon points="1189.5,111.0 1187.7,113.1 1186.2,105.9 1188.0,103.8" fill="rgb(56, 156, 20)" stroke="rgb(56, 156, 20)" stroke-width="0.8"/>
<polygon points="1187.7,113.1 1185.9,115.3 1184.4,108.4 1186.2,105.9" fill="rgb(51, 156, 20)" stroke="rgb(51, 156, 20)" stroke-width="0.8"/>
<polygon points="1185.9,115.3 1184.2,117.5 1182.7,111.7 1184.4,108.4" fill="rgb(29, 152, 21)" stroke="rgb(29, 152, 21)" stroke-width="0.8"/>
<polygon points="1184.2,117.5 1182.4,119.6 1180.9,115.0 1182.7,111.7" fill="rgb(18, 148, 23)" stroke="rgb(18, 148, 23)" stroke-width="0.8"/>
<polygon points="1182.4,119.6 1180.6,121.8 1179.1,117.9 1180.9,115.0" fill="rgb(17, 146, 24)" stroke="rgb(17, 146, 24)" stroke-width="0.8"/>
<polygon points="1180.6,121.8 1178.8,123.9 1177.3,120.5 1179.1,117.9" fill="rgb(16, 144, 25)" stroke="rgb(16, 144, 25)" stroke-width="0.8"/>
<polygon points="1178.8,123.9 1177.1,126.1 1175.6,124.3 1177.3,120.5" fill="rgb(14, 141, 26)" stroke="rgb(14, 141, 26)" stroke-width="0.8"/>
<polygon points="1177.1,126.1 1175.3,128.3 1173.8,126.7 1175.6,124.3" fill="rgb(13, 139, 31)" stroke="rgb(13, 139, 31)" stroke-width="0.8"/>
<polygon points="1175.3,128.3 1173.5,130.4 1172.0,130.1 1173.8,126.7" fill="rgb(15, 141, 63)" stroke="rgb(15, 141, 63)" stroke-width="0.8"/>
<polygon points="1173.5,130.4 1171.7,132.6 1170.2,132.3 1172.0,130.1" fill="rgb(17, 143, 90)" stroke="rgb(17, 143, 90)" stroke-width="0.8"/>
<polygon points="1171.7,132.6 1169.9,134.7 1168.4,134.4 1170.2,132.3" fill="rgb(17, 143, 90)" stroke="rgb(17, 143, 90)" stroke-width="0.8"/>
<polygon points="1169.9,134.7 1168.2,136.9 1166.7,136.6 1168.4,134.4" fill="rgb(17, 143, 90)" stroke="rgb(17, 143, 90)" stroke-width="0.8"/>
<polygon points="1168.2,136.9 1166.4,139.1 1164.9,138.7 1166.7,136.6" fill="rgb(17, 143, 90)" stroke="rgb(17, 143, 90)" stroke-width="0.8"/>
<polygon points="1166.4,139.1 1164.6,141.2 1163.1,140.9 1164.9,138.7" fill="rgb(17, 143, 90)" stroke="rgb(17, 143, 90)" stroke-width="0.8"/>
<polygon points="1164.6,141.2 1162.8,143.4 1161.3,143.1 1163.1,140.9" fill="rgb(17, 143, 90)" stroke="rgb(17, 143, 90)" stroke-width="0.8"/>
<polygon points="1162.8,143.4 1161.1,145.5 1159.6,145.2 1161.3,143.1" fill="rgb(17, 143, 90)" stroke="rgb(17, 143, 90)" stroke-width="0.8"/>
<polygon points="1161.1,145.5 1159.3,147.7 1157.8,146.3 1159.6,145.2" fill="rgb(16, 142, 69)" stroke="rgb(16, 142, 69)" stroke-width="0.8"/>
<polygon points="1159.3,147.7 1157.5,149.9 1156.0,146.3 1157.8,146.3" fill="rgb(14, 140, 26)" stroke="rgb(14, 140, 26)" stroke-width="0.8"/>
<polygon points="1157.5,149.9 1155.7,152.0 1154.2,144.7 1156.0,146.3" fill="rgb(18, 148, 23)" stroke="rgb(18, 148, 23)" stroke-width="0.8"/>
<polygon points="1155.7,152.0 1153.9,154.2 1152.4,144.5 1154.2,144.7" fill="rgb(79, 160, 18)" stroke="rgb(79, 160, 18)" stroke-width="0.8"/>
<polygon points="1153.9,154.2 1152.2,156.3 1150.7,146.6 1152.4,144.5" fill="rgb(118, 158, 18)" stroke="rgb(118, 158, 18)" stroke-width="0.8"/>
<polygon points="1152.2,156.3 1150.4,158.5 1148.9,148.8 1150.7,146.6" fill="rgb(119, 158, 18)" stroke="rgb(119, 158, 18)" stroke-width="0.8"/>
<polygon points="1150.4,158.5 1148.6,160.6 1147.1,152.3 1148.9,148.8" fill="rgb(94, 161, 18)" stroke="rgb(94, 161, 18)" stroke-width="0.8"/>
<polygon points="1148.6,160.6 1146.8,162.8 1145.3,156.4 1147.1,152.3" fill="rgb(47, 155, 20)" stroke="rgb(47, 155, 20)" stroke-width="0.8"/>
<polygon points="1146.8,162.8 1145.1,165.0 1143.6,160.4 1145.3,156.4" fill="rgb(18, 148, 23)" stroke="rgb(18, 148, 23)" stroke-width="0.8"/>
<polygon points="1145.1,165.0 1143.3,167.1 1141.8,162.9 1143.6,160.4" fill="rgb(16, 145, 24)" stroke="rgb(16, 145, 24)" stroke-width="0.8"/>
<polygon points="1143.3,167.1 1141.5,169.3 1140.0,165.4 1141.8,162.9" fill="rgb(16, 144, 24)" stroke="rgb(16, 144, 24)" stroke-width="0.8"/>
<polygon points="1141.5,169.3 1139.7,171.4 1138.2,169.7 1140.0,165.4" fill="rgb(14, 141, 26)" stroke="rgb(14, 141, 26)" stroke-width="0.8"/>
<polygon points="1139.7,171.4 1137.9,173.6 1136.4,171.8 1138.2,169.7" fill="rgb(13, 139, 32)" stroke="rgb(13, 139, 32)" stroke-width="0.8"/>
<polygon points="1137.9,173.6 1136.2,175.8 1134.7,175.8 1136.4,171.8" fill="rgb(15, 141, 67)" stroke="rgb(15, 141, 67)" stroke-width="0.8"/>
<polygon points="1121.9,193.0 1120.2,195.2 1118.7,192.9 1120.4,193.0" fill="rgb(15, 141, 60)" stroke="rgb(15, 141, 60)" stroke-width="0.8"/>
<polygon points="1120.2,195.2 1118.4,197.3 1116.9,192.8 1118.7,192.9" fill="rgb(15, 142, 25)" stroke="rgb(15, 142, 25)" stroke-width="0.8"/>
<polygon points="1118.4,197.3 1116.6,199.5 1115.1,191.2 1116.9,192.8" fill="rgb(19, 150, 22)" stroke="rgb(19, 150, 22)" stroke-width="0.8"/>
<polygon points="1116.6,199.5 1114.8,201.7 1113.3,191.8 1115.1,191.2" fill="rgb(79, 160, 18)" stroke="rgb(79, 160, 18)" stroke-width="0.8"/>
<polygon points="1114.8,201.7 1113.1,203.8 1111.6,194.0 1113.3,191.8" fill="rgb(101, 160, 18)" stroke="rgb(101, 160, 18)" stroke-width="0.8"/>
<polygon points="1113.1,203.8 1111.3,206.0 1109.8,196.1 1111.6,194.0" fill="rgb(101, 160, 18)" stroke="rgb(101, 160, 18)" stroke-width="0.8"/>
<polygon points="1111.3,206.0 1109.5,208.1 1108.0,200.1 1109.8,196.1" fill="rgb(74, 159, 18)" stroke="rgb(74, 159, 18)" stroke-width="0.8"/>
<polygon points="1109.5,208.1 1107.7,210.3 1106.2,204.1 1108.0,200.1" fill="rgb(26, 152, 22)" stroke="rgb(26, 152, 22)" stroke-width="0.8"/>
<polygon points="1107.7,210.3 1105.9,212.5 1104.4,207.9 1106.2,204.1" fill="rgb(17, 147, 23)" stroke="rgb(17, 147, 23)" stroke-width="0.8"/>
<polygon points="1105.9,212.5 1104.2,214.6 1102.7,210.1 1104.4,207.9" fill="rgb(16, 145, 24)" stroke="rgb(16, 145, 24)" stroke-width="0.8"/>
<polygon points="1104.2,214.6 1102.4,216.8 1100.9,214.5 1102.7,210.1" fill="rgb(15, 142, 25)" stroke="rgb(15, 142, 25)" stroke-width="0.8"/>
<polygon points="1102.4,216.8 1100.6,218.9 1099.1,216.6 1100.9,214.5" fill="rgb(13, 140, 26)" stroke="rgb(13, 140, 26)" stroke-width="0.8"/>
<polygon points="1100.6,218.9 1098.8,221.1 1097.3,220.9 1099.1,216.6" fill="rgb(15, 141, 56)" stroke="rgb(15, 141, 56)" stroke-width="0.8"/>
<polygon points="1084.6,238.4 1082.8,240.5 1081.3,237.7 1083.1,238.2" fill="rgb(14, 140, 50)" stroke="rgb(14, 140, 50)" stroke-width="0.8"/>
<polygon points="1082.8,240.5 1081.1,242.7 1079.6,237.6 1081.3,237.7" fill="rgb(15, 143, 25)" stroke="rgb(15, 143, 25)" stroke-width="0.8"/>
<polygon points="1081.1,242.7 1079.3,244.8 1077.8,236.7 1079.6,237.6" fill="rgb(19, 149, 22)" stroke="rgb(19, 149, 22)" stroke-width="0.8"/>
<polygon points="1079.3,244.8 1077.5,247.0 1076.0,238.6 1077.8,236.7" fill="rgb(46, 155, 20)" stroke="rgb(46, 155, 20)" stroke-width="0.8"/>
<polygon points="1747.5,63.6 1745.8,65.9 1744.3,57.7 1746.0,55.5" fill="rgb(165, 143, 19)" stroke="rgb(165, 143, 19)" stroke-width="0.8"/>
<polygon points="1745.8,65.9 1744.0,68.1 1742.5,60.4 1744.3,57.7" fill="rgb(160, 149, 18)" stroke="rgb(160, 149, 18)" stroke-width="0.8"/>
<polygon points="1744.0,68.1 1742.3,70.4 1740.8,64.0 1742.5,60.4" fill="rgb(104, 160, 18)" stroke="rgb(104, 160, 18)" stroke-width="0.8"/>
<polygon points="1742.3,70.4 1740.5,72.6 1739.0,67.6 1740.8,64.0" fill="rgb(29, 152, 21)" stroke="rgb(29, 152, 21)" stroke-width="0.8"/>
<polygon points="1740.5,72.6 1738.8,74.9 1737.3,70.5 1739.0,67.6" fill="rgb(17, 147, 24)" stroke="rgb(17, 147, 24)" stroke-width="0.8"/>
<polygon points="1738.8,74.9 1737.0,77.1 1735.5,72.7 1737.3,70.5" fill="rgb(16, 145, 24)" stroke="rgb(16, 145, 24)" stroke-width="0.8"/>
<polygon points="1737.0,77.1 1735.3,79.4 1733.8,75.0 1735.5,72.7" fill="rgb(16, 145, 24)" stroke="rgb(16, 145, 24)" stroke-width="0.8"/>
<polygon points="1735.3,79.4 1733.5,81.6 1732.0,78.4 1733.8,75.0" fill="rgb(15, 142, 25)" stroke="rgb(15, 142, 25)" stroke-width="0.8"/>
<polygon points="1733.5,81.6 1731.8,83.9 1730.3,81.6 1732.0,78.4" fill="rgb(15, 141, 60)" stroke="rgb(15, 141, 60)" stroke-width="0.8"/>
<polygon points="1731.8,83.9 1730.0,86.1 1728.5,85.4 1730.3,81.6" fill="rgb(18, 138, 129)" stroke="rgb(18, 138, 129)" stroke-width="0.8"/>
<polygon points="1730.0,86.1 1728.3,88.4 1726.8,87.9 1728.5,85.4" fill="rgb(18, 129, 154)" stroke="rgb(18, 129, 154)" stroke-width="0.8"/>
<polygon points="1728.3,88.4 1726.5,90.6 1725.0,90.1 1726.8,87.9" fill="rgb(18, 128, 156)" stroke="rgb(18, 128, 156)" stroke-width="0.8"/>
<polygon points="1726.5,90.6 1724.8,92.9 1723.3,92.4 1725.0,90.1" fill="rgb(18, 128, 156)" stroke="rgb(18, 128, 156)" stroke-width="0.8"/>
<polygon points="1724.8,92.9 1723.0,95.1 1721.5,94.6 1723.3,92.4" fill="rgb(18, 128, 156)" stroke="rgb(18, 128, 156)" stroke-width="0.8"/>
<polygon points="1723.0,95.1 1721.3,97.4 1719.8,96.9 1721.5,94.6" fill="rgb(18, 128, 156)" stroke="rgb(18, 128, 156)" stroke-width="0.8"/>
<polygon points="1721.3,97.4 1719.6,99.7 1718.1,98.8 1719.8,96.9" fill="rgb(18, 130, 153)" stroke="rgb(18, 130, 153)" stroke-width="0.8"/>
<polygon points="1719.6,99.7 1717.8,101.9 1716.3,98.6 1718.1,98.8" fill="rgb(18, 142, 110)" stroke="rgb(18, 142, 110)" stroke-width="0.8"/>
<polygon points="1717.8,101.9 1716.1,104.2 1714.6,98.0 1716.3,98.6" fill="rgb(17, 146, 24)" stroke="rgb(17, 146, 24)" stroke-width="0.8"/>
<polygon points="1716.1,104.2 1714.3,106.4 1712.8,97.8 1714.6,98.0" fill="rgb(101, 160, 18)" stroke="rgb(101, 160, 18)" stroke-width="0.8"/>
<polygon points="1714.3,106.4 1712.6,108.7 1711.1,100.0 1712.8,97.8" fill="rgb(165, 143, 19)" stroke="rgb(165, 143, 19)" stroke-width="0.8"/>
<polygon points="1712.6,108.7 1710.8,110.9 1709.3,102.2 1711.1,100.0" fill="rgb(165, 143, 19)" stroke="rgb(165, 143, 19)" stroke-width="0.8"/>
<polygon points="1710.8,110.9 1709.1,113.2 1707.6,104.4 1709.3,102.2" fill="rgb(164, 144, 19)" stroke="rgb(164, 144, 19)" stroke-width="0.8"/>
<polygon points="1709.1,113.2 1707.3,115.4 1705.8,107.9 1707.6,104.4" fill="rgb(140, 155, 18)" stroke="rgb(140, 155, 18)" stroke-width="0.8"/>
<polygon points="1707.3,115.4 1705.6,117.7 1704.1,111.6 1705.8,107.9" fill="rgb(62, 157, 19)" stroke="rgb(62, 157, 19)" stroke-width="0.8"/>
<polygon points="1705.6,117.7 1703.8,119.9 1702.3,115.2 1704.1,111.6" fill="rgb(18, 148, 23)" stroke="rgb(18, 148, 23)" stroke-width="0.8"/>
<polygon points="1703.8,119.9 1702.1,122.2 1700.6,117.5 1702.3,115.2" fill="rgb(16, 145, 24)" stroke="rgb(16, 145, 24)" stroke-width="0.8"/>
<polygon points="1702.1,122.2 1700.3,124.4 1698.8,120.0 1700.6,117.5" fill="rgb(16, 144, 24)" stroke="rgb(16, 144, 24)" stroke-width="0.8"/>
<polygon points="1700.3,124.4 1698.6,126.7 1697.1,123.3 1698.8,120.0" fill="rgb(14, 141, 26)" stroke="rgb(14, 141, 26)" stroke-width="0.8"/>
<polygon points="1698.6,126.7 1696.8,128.9 1695.3,127.3 1697.1,123.3" fill="rgb(17, 143, 90)" stroke="rgb(17, 143, 90)" stroke-width="0.8"/>
<polygon points="1696.8,128.9 1695.1,131.2 1693.6,130.8 1695.3,127.3" fill="rgb(18, 134, 149)" stroke="rgb(18, 134, 149)" stroke-width="0.8"/>
<polygon points="1695.1,131.2 1693.4,133.5 1691.9,133.1 1693.6,130.8" fill="rgb(18, 125, 158)" stroke="rgb(18, 125, 158)" stroke-width="0.8"/>
<polygon points="1693.4,133.5 1691.6,135.7 1690.1,135.3 1691.9,133.1" fill="rgb(18, 125, 158)" stroke="rgb(18, 125, 158)" stroke-width="0.8"/>
<polygon points="1691.6,135.7 1689.9,138.0 1688.4,137.6 1690.1,135.3" fill="rgb(18, 125, 158)" stroke="rgb(18, 125, 158)" stroke-width="0.8"/>
<polygon points="1689.9,138.0 1688.1,140.2 1686.6,139.8 1688.4,137.6" fill="rgb(18, 125, 158)" stroke="rgb(18, 125, 158)" stroke-width="0.8"/>
<polygon points="1688.1,140.2 1686.4,142.5 1684.9,142.1 1686.6,139.8" fill="rgb(18, 125, 158)" stroke="rgb(18, 125, 158)" stroke-width="0.8"/>
<polygon points="1686.4,142.5 1684.6,144.7 1683.1,144.3 1684.9,142.1" fill="rgb(18, 125, 158)" stroke="rgb(18, 125, 158)" stroke-width="0.8"/>
<polygon points="1684.6,144.7 1682.9,147.0 1681.4,146.6 1683.1,144.3" fill="rgb(18, 125, 158)" stroke="rgb(18, 125, 158)" stroke-width="0.8"/>
<polygon points="1682.9,147.0 1681.1,149.2 1679.6,146.4 1681.4,146.6" fill="rgb(18, 138, 132)" stroke="rgb(18, 138, 132)" stroke-width="0.8"/>
<polygon points="1681.1,149.2 1679.4,151.5 1677.9,145.9 1679.6,146.4" fill="rgb(15, 142, 25)" stroke="rgb(15, 142, 25)" stroke-width="0.8"/>
<polygon points="1679.4,151.5 1677.6,153.7 1676.1,144.8 1677.9,145.9" fill="rgb(66, 158, 19)" stroke="rgb(66, 158, 19)" stroke-width="0.8"/>
<polygon points="1677.6,153.7 1675.9,156.0 1674.4,146.5 1676.1,144.8" fill="rgb(163, 146, 19)" stroke="rgb(163, 146, 19)" stroke-width="0.8"/>
<polygon points="1675.9,156.0 1674.1,158.2 1672.6,148.7 1674.4,146.5" fill="rgb(168, 139, 20)" stroke="rgb(168, 139, 20)" stroke-width="0.8"/>
<polygon points="1674.1,158.2 1672.4,160.5 1670.9,151.6 1672.6,148.7" fill="rgb(162, 146, 19)" stroke="rgb(162, 146, 19)" stroke-width="0.8"/>
<polygon points="1672.4,160.5 1670.6,162.7 1669.1,155.4 1670.9,151.6" fill="rgb(106, 159, 18)" stroke="rgb(106, 159, 18)" stroke-width="0.8"/>
<polygon points="1670.6,162.7 1668.9,165.0 1667.4,159.3 1669.1,155.4" fill="rgb(27, 152, 22)" stroke="rgb(27, 152, 22)" stroke-width="0.8"/>
<polygon points="1668.9,165.0 1667.2,167.3 1665.7,162.2 1667.4,159.3" fill="rgb(17, 146, 24)" stroke="rgb(17, 146, 24)" stroke-width="0.8"/>
<polygon points="1667.2,167.3 1665.4,169.5 1663.9,164.5 1665.7,162.2" fill="rgb(16, 145, 24)" stroke="rgb(16, 145, 24)" stroke-width="0.8"/>
<polygon points="1665.4,169.5 1663.7,171.8 1662.2,167.9 1663.9,164.5" fill="rgb(15, 142, 25)" stroke="rgb(15, 142, 25)" stroke-width="0.8"/>
<polygon points="1663.7,171.8 1661.9,174.0 1660.4,171.5 1662.2,167.9" fill="rgb(15, 141, 61)" stroke="rgb(15, 141, 61)" stroke-width="0.8"/>
<polygon points="1661.9,174.0 1660.2,176.3 1658.7,175.9 1660.4,171.5" fill="rgb(18, 136, 139)" stroke="rgb(18, 136, 139)" stroke-width="0.8"/>
<polygon points="1660.2,176.3 1658.4,178.5 1656.9,178.5 1658.7,175.9" fill="rgb(18, 123, 161)" stroke="rgb(18, 123, 161)" stroke-width="0.8"/>
<polygon points="1647.9,192.0 1646.2,194.3 1644.7,193.4 1646.4,192.0" fill="rgb(18, 126, 157)" stroke="rgb(18, 126, 157)" stroke-width="0.8"/>
<polygon points="1646.2,194.3 1644.4,196.5 1642.9,192.1 1644.7,193.4" fill="rgb(17, 143, 98)" stroke="rgb(17, 143, 98)" stroke-width="0.8"/>
<polygon points="1644.4,196.5 1642.7,198.8 1641.2,190.9 1642.9,192.1" fill="rgb(18, 149, 23)" stroke="rgb(18, 149, 23)" stroke-width="0.8"/>
<polygon points="1642.7,198.8 1641.0,201.1 1639.5,190.9 1641.2,190.9" fill="rgb(130, 156, 18)" stroke="rgb(130, 156, 18)" stroke-width="0.8"/>
<polygon points="1641.0,201.1 1639.2,203.3 1637.7,193.2 1639.5,190.9" fill="rgb(168, 139, 20)" stroke="rgb(168, 139, 20)" stroke-width="0.8"/>
<polygon points="1639.2,203.3 1637.5,205.6 1636.0,195.4 1637.7,193.2" fill="rgb(168, 139, 20)" stroke="rgb(168, 139, 20)" stroke-width="0.8"/>
<polygon points="1637.5,205.6 1635.7,207.8 1634.2,197.6 1636.0,195.4" fill="rgb(168, 139, 20)" stroke="rgb(168, 139, 20)" stroke-width="0.8"/>
<polygon points="1635.7,207.8 1634.0,210.1 1632.5,200.3 1634.2,197.6" fill="rgb(164, 144, 19)" stroke="rgb(164, 144, 19)" stroke-width="0.8"/>
<polygon points="1634.0,210.1 1632.2,212.3 1630.7,204.2 1632.5,200.3" fill="rgb(119, 158, 18)" stroke="rgb(119, 158, 18)" stroke-width="0.8"/>
<polygon points="1632.2,212.3 1630.5,214.6 1629.0,208.2 1630.7,204.2" fill="rgb(38, 154, 21)" stroke="rgb(38, 154, 21)" stroke-width="0.8"/>
<polygon points="1630.5,214.6 1628.7,216.8 1627.2,211.5 1629.0,208.2" fill="rgb(17, 147, 23)" stroke="rgb(17, 147, 23)" stroke-width="0.8"/>
<polygon points="1628.7,216.8 1627.0,219.1 1625.5,213.7 1627.2,211.5" fill="rgb(16, 145, 24)" stroke="rgb(16, 145, 24)" stroke-width="0.8"/>
<polygon points="1627.0,219.1 1625.2,221.3 1623.7,217.5 1625.5,213.7" fill="rgb(14, 142, 25)" stroke="rgb(14, 142, 25)" stroke-width="0.8"/>
<polygon points="1625.2,221.3 1623.5,223.6 1622.0,221.0 1623.7,217.5" fill="rgb(16, 142, 71)" stroke="rgb(16, 142, 71)" stroke-width="0.8"/>
<polygon points="1623.5,223.6 1621.7,225.8 1620.2,225.2 1622.0,221.0" fill="rgb(18, 137, 136)" stroke="rgb(18, 137, 136)" stroke-width="0.8"/>
<polygon points="1621.7,225.8 1620.0,228.1 1618.5,227.7 1620.2,225.2" fill="rgb(18, 127, 157)" stroke="rgb(18, 127, 157)" stroke-width="0.8"/>
<polygon points="1620.0,228.1 1618.2,230.3 1616.7,229.9 1618.5,227.7" fill="rgb(18, 125, 158)" stroke="rgb(18, 125, 158)" stroke-width="0.8"/>
<polygon points="1618.2,230.3 1616.5,232.6 1615.0,232.2 1616.7,229.9" fill="rgb(18, 125, 158)" stroke="rgb(18, 125, 158)" stroke-width="0.8"/>
<polygon points="1616.5,232.6 1614.8,234.9 1613.3,234.4 1615.0,232.2" fill="rgb(18, 125, 158)" stroke="rgb(18, 125, 158)" stroke-width="0.8"/>
<polygon points="1614.8,234.9 1613.0,237.1 1611.5,236.7 1613.3,234.4" fill="rgb(18, 125, 158)" stroke="rgb(18, 125, 158)" stroke-width="0.8"/>
<polygon points="1613.0,237.1 1611.3,239.4 1609.8,238.9 1611.5,236.7" fill="rgb(18, 125, 158)" stroke="rgb(18, 125, 158)" stroke-width="0.8"/>
<polygon points="1611.3,239.4 1609.5,241.6 1608.0,241.2 1609.8,238.9" fill="rgb(18, 125, 158)" stroke="rgb(18, 125, 158)" stroke-width="0.8"/>
<polygon points="1609.5,241.6 1607.8,243.9 1606.3,243.4 1608.0,241.2" fill="rgb(18, 125, 158)" stroke="rgb(18, 125, 158)" stroke-width="0.8"/>
<polygon points="1607.8,243.9 1606.0,246.1 1604.5,243.5 1606.3,243.4" fill="rgb(18, 136, 141)" stroke="rgb(18, 136, 141)" stroke-width="0.8"/>
<polygon points="1606.0,246.1 1604.3,248.4 1602.8,242.6 1604.5,243.5" fill="rgb(13, 139, 26)" stroke="rgb(13, 139, 26)" stroke-width="0.8"/>
<polygon points="1604.3,248.4 1602.5,250.6 1601.0,240.7 1602.8,242.6" fill="rgb(49, 155, 20)" stroke="rgb(49, 155, 20)" stroke-width="0.8"/>
<polygon points="1602.5,250.6 1600.8,252.9 1599.3,242.1 1601.0,240.7" fill="rgb(161, 148, 18)" stroke="rgb(161, 148, 18)" stroke-width="0.8"/>
<polygon points="1600.8,252.9 1599.0,255.1 1597.5,244.3 1599.3,242.1" fill="rgb(168, 139, 20)" stroke="rgb(168, 139, 20)" stroke-width="0.8"/>
<polygon points="1599.0,255.1 1597.3,257.4 1595.8,246.7 1597.5,244.3" fill="rgb(167, 141, 19)" stroke="rgb(167, 141, 19)" stroke-width="0.8"/>
<polygon points="1597.3,257.4 1595.5,259.6 1594.0,250.9 1595.8,246.7" fill="rgb(131, 156, 18)" stroke="rgb(131, 156, 18)" stroke-width="0.8"/>
<polygon points="1595.5,259.6 1593.8,261.9 1592.3,255.0 1594.0,250.9" fill="rgb(44, 154, 20)" stroke="rgb(44, 154, 20)" stroke-width="0.8"/>
<polygon points="1593.8,261.9 1592.0,264.1 1590.5,258.4 1592.3,255.0" fill="rgb(17, 147, 23)" stroke="rgb(17, 147, 23)" stroke-width="0.8"/>
<polygon points="1592.0,264.1 1590.3,266.4 1588.8,260.7 1590.5,258.4" fill="rgb(16, 145, 24)" stroke="rgb(16, 145, 24)" stroke-width="0.8"/>
<line x1="90.9" y1="242.7" x2="83.7" y2="182.8" stroke="#222" stroke-width="1.6"/>
<polygon points="83.7,182.8 89.8,196.2 80.9,197.2" fill="#111"/>
<line x1="465" y1="345" x2="503" y2="356" stroke="#333" stroke-width="1.6"/>
<polygon points="503,356 486.2,356.4 489.0,346.7" fill="#111"/>
<clipPath id="lc_a"><rect x="454" y="347" width="100" height="40"/></clipPath>
<text x="459" y="377" font-family="'Liberation Sans', Arial, sans-serif" font-size="20" fill="#555" clip-path="url(#lc_a)">256.919μm</text>
<text x="87" y="272" font-family="'Liberation Sans', Arial, sans-serif" font-size="19" fill="#555">0</text>
<text x="111" y="77.2" font-family="'Liberation Serif', 'Times New Roman', serif" font-size="66" fill="#000">(a)</text>
<line x1="585.6" y1="254" x2="579" y2="198" stroke="#222" stroke-width="1.6"/>
<polygon points="579,198 585.1,211.4 576.2,212.4" fill="#111"/>
<line x1="954.6" y1="354.6" x2="991" y2="365" stroke="#333" stroke-width="1.6"/>
<polygon points="991,365 974.2,365.4 977.0,355.8" fill="#111"/>
<clipPath id="lc_b"><rect x="942" y="358.5" width="99" height="40"/></clipPath>
<text x="947" y="388.5" font-family="'Liberation Sans', Arial, sans-serif" font-size="20" fill="#555" clip-path="url(#lc_b)">256.919μm</text>
<text x="582" y="283" font-family="'Liberation Sans', Arial, sans-serif" font-size="19" fill="#555">0</text>
<text x="586" y="78" font-family="'Liberation Serif', 'Times New Roman', serif" font-size="66" fill="#000">(b)</text>
<line x1="1077" y1="266" x2="1068" y2="205.5" stroke="#222" stroke-width="1.6"/>
<polygon points="1068,205.5 1074.5,218.7 1065.6,220.0" fill="#111"/>
<line x1="1461.6" y1="370" x2="1501" y2="383" stroke="#333" stroke-width="1.6"/>
<polygon points="1501,383 1484.2,382.7 1487.4,373.2" fill="#111"/>
<text x="1454" y="405.5" font-family="'Liberation Sans', Arial, sans-serif" font-size="20" fill="#555">256.919μm</text>
<text x="1072.5" y="297.5" font-family="'Liberation Sans', Arial, sans-serif" font-size="19" fill="#555">0</text>
<text x="1080" y="84.3" font-family="'Liberation Serif', 'Times New Roman', serif" font-size="66" fill="#000">(c)</text>
<line x1="1588.8" y1="280" x2="1581" y2="221" stroke="#222" stroke-width="1.6"/>
<polygon points="1581,221 1587.3,234.3 1578.4,235.5" fill="#111"/>
<line x1="1967" y1="382" x2="2006.6" y2="395" stroke="#333" stroke-width="1.6"/>
<polygon points="2006.6,395 1989.8,394.8 1993.0,385.3" fill="#111"/>
<text x="1960" y="418" font-family="'Liberation Sans', Arial, sans-serif" font-size="20" fill="#555">256.919μm</text>
<text x="1586" y="310.3" font-family="'Liberation Sans', Arial, sans-serif" font-size="19" fill="#555">0</text>
<text x="1577" y="87" font-family="'Liberation Serif', 'Times New Roman', serif" font-size="66" fill="#000">(d)</text>
<text x="2063" y="165" font-family="'Liberation Sans', Arial, sans-serif" font-size="20" fill="#555">257.277μm</text>
</svg>
</div>
</body></html>
